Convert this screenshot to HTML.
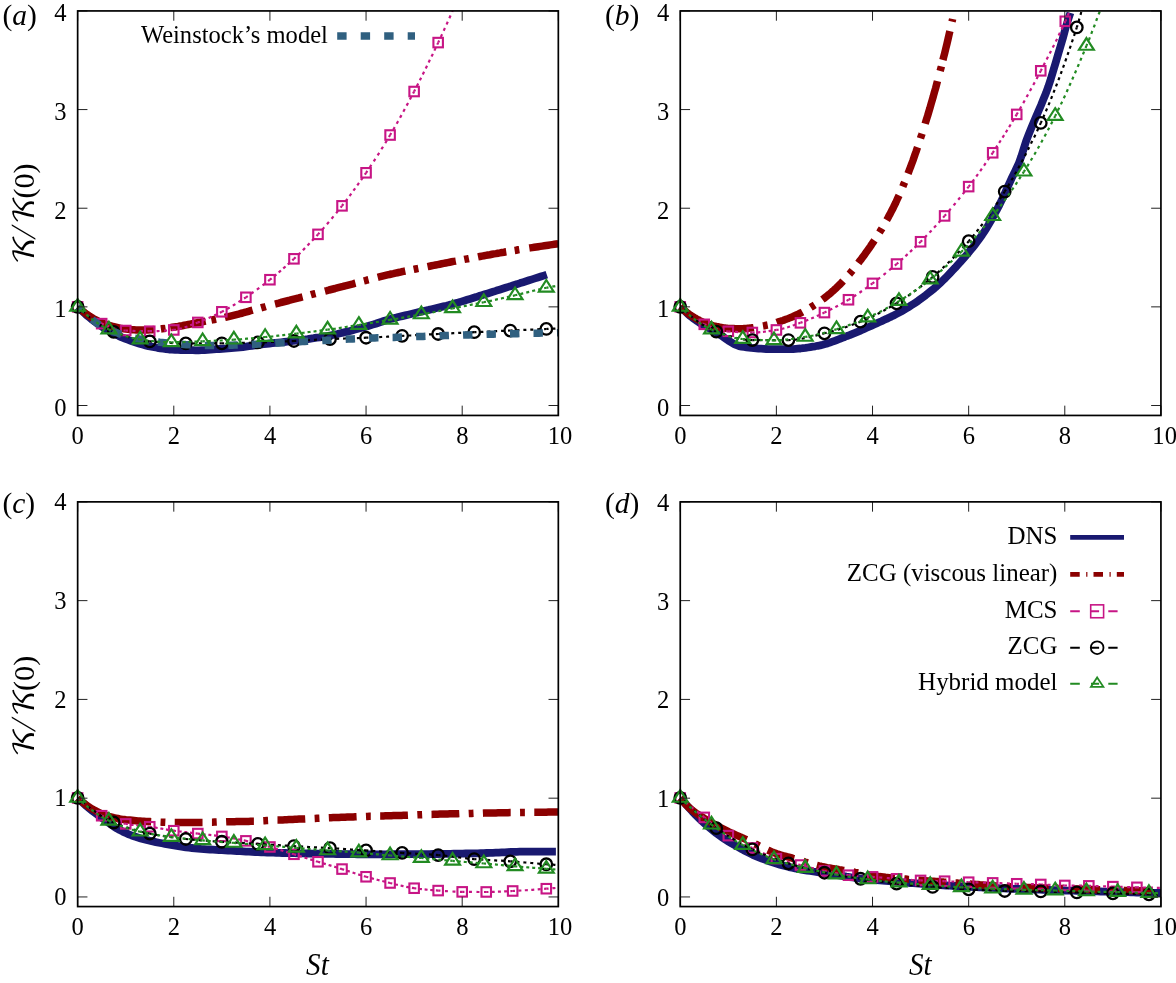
<!DOCTYPE html>
<html lang="en">
<head>
<meta charset="utf-8">
<title>K/K(0) versus St</title>
<style>
html,body{margin:0;padding:0;background:#fff;}
body{width:1176px;height:983px;overflow:hidden;}
svg{display:block;will-change:transform;}
text{font-family:"Liberation Serif","Times New Roman",Times,serif;fill:#000;}
.t{font-size:26px;}
.l{font-size:31px;}
.p{font-size:29.5px;}
.i{font-style:italic;}
.k{font-size:27px;font-family:"DejaVu Math TeX Gyre","STIX Two Math","Latin Modern Math","FreeSerif","Liberation Serif",serif;}
</style>
</head>
<body>
<svg width="1176" height="983" viewBox="0 0 1176 983">
<defs>
<clipPath id="clip_a"><rect x="65.65" y="10.93" width="493.58" height="404.52"/></clipPath>
<clipPath id="clip_b"><rect x="668.25" y="10.93" width="493.58" height="404.52"/></clipPath>
<clipPath id="clip_c"><rect x="65.65" y="502.03" width="493.58" height="404.52"/></clipPath>
<clipPath id="clip_d"><rect x="668.25" y="502.03" width="493.58" height="404.52"/></clipPath>
</defs>
<rect width="1176" height="983" fill="#fff"/>
<!-- panel a -->
<g clip-path="url(#clip_a)">
<path d="M77.7 306.9L80.6 309.7L83.6 312.4L86.5 315.1L89.5 317.5L92.4 319.9L95.4 322.2L98.3 324.3L101.3 326.3L104.2 328.2L107.2 329.9L110.1 331.6L113.1 333.2L116 334.6L119 336.1L121.9 337.4L124.9 338.6L127.8 339.7L130.8 340.8L133.7 341.8L136.7 342.8L139.6 343.7L142.6 344.6L145.5 345.4L148.5 346.1L151.4 346.6L154.4 347.2L157.3 347.8L160.3 348.3L163.2 348.7L166.2 349.1L169.1 349.5L172.1 349.7L175 349.8L178 349.9L180.9 350L183.9 350.1L186.8 350.1L189.8 350.2L192.7 350.2L195.7 350.3L198.6 350.3L201.6 350.2L204.5 350.1L207.5 349.9L210.4 349.7L213.4 349.4L216.3 349.2L219.3 349L222.2 348.8L225.2 348.6L228.1 348.4L231.1 348.1L234 347.9L237 347.7L239.9 347.4L242.9 347.1L245.8 346.7L248.8 346.2L251.7 345.8L254.7 345.3L257.6 344.9L260.6 344.5L263.5 344.2L266.5 343.8L269.4 343.5L272.4 343.2L275.3 342.9L278.3 342.6L281.2 342.3L284.2 342L287.1 341.7L290.1 341.4L293 341L296 340.6L298.9 340.2L301.9 339.9L304.8 339.5L307.8 339.1L310.7 338.6L313.7 338.2L316.6 337.7L319.6 337.3L322.5 336.8L325.5 336.3L328.5 335.8L331.4 335.2L334.4 334.6L337.3 334L340.3 333.3L343.2 332.6L346.2 331.9L349.1 331.2L352.1 330.4L355 329.6L358 328.8L360.9 328L363.9 327.2L366.8 326.4L369.8 325.5L372.7 324.6L375.7 323.7L378.6 322.7L381.6 321.8L384.5 320.8L387.5 319.9L390.4 319.1L393.4 318.3L396.3 317.6L399.3 316.8L402.2 316.1L405.2 315.4L408.1 314.7L411.1 314L414 313.3L417 312.6L419.9 311.9L422.9 311.2L425.8 310.5L428.8 309.9L431.7 309.2L434.7 308.5L437.6 307.8L440.6 307.1L443.5 306.4L446.5 305.7L449.4 304.9L452.4 304.2L455.3 303.3L458.3 302.5L461.2 301.6L464.2 300.7L467.1 299.8L470.1 298.9L473 298L476 297.1L478.9 296.1L481.9 295.2L484.8 294.3L487.8 293.4L490.7 292.5L493.7 291.6L496.6 290.6L499.6 289.7L502.5 288.8L505.5 287.8L508.4 286.9L511.4 286L514.3 285L517.3 284.1L520.2 283.1L523.2 282.2L526.1 281.3L529.1 280.3L532 279.4L535 278.4L537.9 277.5L540.9 276.5L543.8 275.6L546.8 274.6" fill="none" stroke="#191970" stroke-width="7.8" stroke-linejoin="round"/>
<path d="M77.7 306.9L79.7 308.6L81.7 310.3L83.7 312L85.7 313.5L87.7 314.9L89.7 316.3L91.7 317.5L93.7 318.7L95.8 319.8L97.8 320.9L99.8 321.8L101.8 322.7L103.8 323.5L105.8 324.2L107.8 324.9L109.8 325.5L111.8 326.1L113.9 326.6L115.9 327.1L117.9 327.6L119.9 328.1L121.9 328.5L123.9 328.8L125.9 329.1L127.9 329.3L129.9 329.5L132 329.7L134 329.8L136 329.9L138 330L140 330L142 330L144 330L146 329.9L148 329.9L150.1 329.8L152.1 329.7L154.1 329.6L156.1 329.4L158.1 329.3L160.1 329.1L162.1 328.8L164.1 328.6L166.1 328.3L168.2 328L170.2 327.6L172.2 327.3L174.2 327L176.2 326.7L178.2 326.4L180.2 326L182.2 325.7L184.2 325.3L186.3 324.9L188.3 324.5L190.3 324.1L192.3 323.7L194.3 323.3L196.3 322.9L198.3 322.5L200.3 322.2L202.3 321.8L204.4 321.4L206.4 321L208.4 320.7L210.4 320.3L212.4 319.9L214.4 319.5L216.4 319.1L218.4 318.7L220.4 318.3L222.5 317.9L224.5 317.5L226.5 317L228.5 316.6L230.5 316.1L232.5 315.6L234.5 315.1L236.5 314.6L238.5 314.1L240.6 313.5L242.6 313L244.6 312.4L246.6 311.9L248.6 311.3L250.6 310.7L252.6 310.2L254.6 309.6L256.6 309L258.7 308.5L260.7 307.9L262.7 307.3L264.7 306.8L266.7 306.2L268.7 305.7L270.7 305.2L272.7 304.6L274.7 304.1L276.8 303.6L278.8 303.1L280.8 302.5L282.8 302L284.8 301.5L286.8 301L288.8 300.5L290.8 299.9L292.8 299.4L294.9 298.9L296.9 298.4L298.9 297.9L300.9 297.3L302.9 296.8L304.9 296.3L306.9 295.8L308.9 295.3L311 294.7L313 294.2L315 293.7L317 293.2L319 292.6L321 292.1L323 291.6L325 291.1L327 290.6L329.1 290L331.1 289.5L333.1 289L335.1 288.5L337.1 287.9L339.1 287.4L341.1 286.9L343.1 286.4L345.1 285.8L347.2 285.3L349.2 284.8L351.2 284.3L353.2 283.8L355.2 283.2L357.2 282.7L359.2 282.2L361.2 281.6L363.2 281.1L365.3 280.6L367.3 280L369.3 279.5L371.3 279L373.3 278.5L375.3 277.9L377.3 277.4L379.3 276.9L381.3 276.4L383.4 275.9L385.4 275.4L387.4 274.9L389.4 274.5L391.4 274L393.4 273.6L395.4 273.1L397.4 272.7L399.4 272.3L401.5 271.8L403.5 271.4L405.5 271L407.5 270.6L409.5 270.2L411.5 269.8L413.5 269.4L415.5 269L417.5 268.6L419.6 268.2L421.6 267.8L423.6 267.4L425.6 267L427.6 266.6L429.6 266.2L431.6 265.8L433.6 265.4L435.6 265L437.7 264.6L439.7 264.2L441.7 263.8L443.7 263.4L445.7 263L447.7 262.6L449.7 262.2L451.7 261.8L453.7 261.4L455.8 261.1L457.8 260.7L459.8 260.3L461.8 259.9L463.8 259.5L465.8 259.1L467.8 258.8L469.8 258.4L471.8 258L473.9 257.6L475.9 257.3L477.9 256.9L479.9 256.5L481.9 256.1L483.9 255.8L485.9 255.4L487.9 255L489.9 254.7L492 254.3L494 253.9L496 253.6L498 253.2L500 252.9L502 252.5L504 252.2L506 251.8L508 251.5L510.1 251.2L512.1 250.8L514.1 250.5L516.1 250.2L518.1 249.8L520.1 249.5L522.1 249.2L524.1 248.9L526.2 248.5L528.2 248.2L530.2 247.9L532.2 247.6L534.2 247.3L536.2 247L538.2 246.7L540.2 246.4L542.2 246.1L544.3 245.8L546.3 245.5L548.3 245.2L550.3 244.9L552.3 244.6L554.3 244.3L556.3 244L558.3 243.7" fill="none" stroke="#8b0000" stroke-width="7.5" stroke-dasharray="82.06 6.98 4.74 4.7 35.98 5.85 4.79 8.93 28.73 8.78 4.88 9.57 28.51 8.52 4.86 9.66 31.61 8.64 4.86 9.46 28.31 8.52 4.79 9.33 28.84 8.6 4.78 9.21 28.75 8.47 4.76 10.08 29.35 999" stroke-linejoin="round"/>
<path d="M77.7 306.9L79.7 308.6L81.7 310.4L83.7 312.1L85.7 313.7L87.7 315.3L89.7 316.7L91.7 318.1L93.7 319.4L95.7 320.6L97.7 321.8L99.7 322.7L101.7 323.6" fill="none" stroke="#c71585" stroke-width="2.2" stroke-dasharray="3 3.99" stroke-dashoffset="0.75"/>
<path d="M101.7 323.6L103.7 324.4L105.7 325.2L107.7 326L109.7 326.8L111.7 327.5L113.7 328.1L115.7 328.7L117.7 329.3L119.7 329.7L121.7 330.1L123.7 330.4L125.7 330.5" fill="none" stroke="#c71585" stroke-width="2.2" stroke-dasharray="3 2.91" stroke-dashoffset="0.75"/>
<path d="M125.7 330.5L127.7 330.6L129.7 330.7L131.7 330.8L133.7 330.9L135.7 331L137.7 331L139.7 331.1L141.7 331.1L143.7 331.2L145.7 331.2L147.7 331.2L149.8 331.2" fill="none" stroke="#c71585" stroke-width="2.2" stroke-dasharray="3 4.52" stroke-dashoffset="0.75"/>
<path d="M149.8 331.2L151.8 331.2L153.8 331.2L155.8 331.1L157.8 331.1L159.8 331L161.8 330.9L163.8 330.7L165.8 330.6L167.8 330.4L169.8 330.3L171.8 330.1L173.8 329.9" fill="none" stroke="#c71585" stroke-width="2.2" stroke-dasharray="3 4.53" stroke-dashoffset="0.75"/>
<path d="M173.8 329.9L175.8 329.7L177.8 329.3L179.8 328.9L181.8 328.3L183.8 327.7L185.8 327L187.8 326.3L189.8 325.5L191.8 324.7L193.8 324L195.8 323.2L197.8 322.4" fill="none" stroke="#c71585" stroke-width="2.2" stroke-dasharray="3 2.94" stroke-dashoffset="0.75"/>
<path d="M197.8 322.4L199.8 321.7L201.8 320.9L203.8 320.1L205.8 319.3L207.8 318.4L209.8 317.6L211.8 316.6L213.8 315.7L215.8 314.8L217.8 313.8L219.9 312.8L221.9 311.8" fill="none" stroke="#c71585" stroke-width="2.2" stroke-dasharray="3 3.2" stroke-dashoffset="0.75"/>
<path d="M221.9 311.8L223.9 310.7L225.9 309.7L227.9 308.5L229.9 307.4L231.9 306.2L233.9 305L235.9 303.8L237.9 302.5L239.9 301.2L241.9 299.9L243.9 298.6L245.9 297.3" fill="none" stroke="#c71585" stroke-width="2.2" stroke-dasharray="3 3.65" stroke-dashoffset="0.75"/>
<path d="M245.9 297.3L247.9 296L249.9 294.6L251.9 293.2L253.9 291.8L255.9 290.4L257.9 288.9L259.9 287.4L261.9 285.9L263.9 284.4L265.9 282.9L267.9 281.3L269.9 279.7" fill="none" stroke="#c71585" stroke-width="2.2" stroke-dasharray="3 4.07" stroke-dashoffset="0.75"/>
<path d="M269.9 279.7L271.9 278.1L273.9 276.5L275.9 274.8L277.9 273.2L279.9 271.4L281.9 269.7L283.9 267.9L285.9 266.2L287.9 264.4L290 262.5L292 260.7L294 258.8" fill="none" stroke="#c71585" stroke-width="2.2" stroke-dasharray="3 3.07" stroke-dashoffset="0.75"/>
<path d="M294 258.8L296 256.9L298 255L300 253.1L302 251.1L304 249.1L306 247.1L308 245L310 242.9L312 240.8L314 238.7L316 236.5L318 234.4" fill="none" stroke="#c71585" stroke-width="2.2" stroke-dasharray="3 3.56" stroke-dashoffset="0.75"/>
<path d="M318 234.4L320 232.1L322 229.9L324 227.6L326 225.3L328 223L330 220.6L332 218.2L334 215.8L336 213.4L338 210.9L340 208.4L342 205.8" fill="none" stroke="#c71585" stroke-width="2.2" stroke-dasharray="3 4.16" stroke-dashoffset="0.75"/>
<path d="M342 205.8L344 203.3L346 200.7L348 198L350 195.4L352 192.6L354 189.9L356 187.1L358 184.3L360 181.5L362.1 178.6L364.1 175.7L366.1 172.8" fill="none" stroke="#c71585" stroke-width="2.2" stroke-dasharray="3 3.56" stroke-dashoffset="0.75"/>
<path d="M366.1 172.8L368.1 169.8L370.1 166.9L372.1 163.8L374.1 160.8L376.1 157.7L378.1 154.6L380.1 151.4L382.1 148.2L384.1 145L386.1 141.7L388.1 138.4L390.1 135" fill="none" stroke="#c71585" stroke-width="2.2" stroke-dasharray="3 4.21" stroke-dashoffset="0.75"/>
<path d="M390.1 135L392.1 131.6L394.1 128.2L396.1 124.7L398.1 121.2L400.1 117.6L402.1 114L404.1 110.3L406.1 106.6L408.1 102.9L410.1 99.1L412.1 95.3L414.1 91.5" fill="none" stroke="#c71585" stroke-width="2.2" stroke-dasharray="3 3.89" stroke-dashoffset="0.75"/>
<path d="M414.1 91.5L416.1 87.7L418.1 83.7L420.1 79.8L422.1 75.8L424.1 71.7L426.1 67.7L428.1 63.6L430.1 59.4L432.2 55.2L434.2 51L436.2 46.8L438.2 42.6" fill="none" stroke="#c71585" stroke-width="2.2" stroke-dasharray="3 3.63" stroke-dashoffset="0.75"/>
<path d="M438.2 42.6L439.4 40L440.6 37.5L441.8 34.9L443 32.3L444.2 29.6L445.4 27L446.6 24.4L447.8 21.7L449 19L450.2 16.3L451.4 13.6L452.6 10.9" fill="none" stroke="#c71585" stroke-width="2.2" stroke-dasharray="3 3.9" stroke-dashoffset="0.75"/>
<g stroke="#c71585" stroke-width="2.1" fill="none"><rect x="72.9" y="302.11" width="9.5" height="9.5"/></g>
<g stroke="#c71585" stroke-width="2.1" fill="none"><rect x="96.93" y="318.88" width="9.5" height="9.5"/></g>
<g stroke="#c71585" stroke-width="2.1" fill="none"><rect x="120.97" y="325.78" width="9.5" height="9.5"/></g>
<g stroke="#c71585" stroke-width="2.1" fill="none"><rect x="145" y="326.47" width="9.5" height="9.5"/></g>
<g stroke="#c71585" stroke-width="2.1" fill="none"><rect x="169.04" y="325.19" width="9.5" height="9.5"/></g>
<g stroke="#c71585" stroke-width="2.1" fill="none"><rect x="193.07" y="317.69" width="9.5" height="9.5"/></g>
<g stroke="#c71585" stroke-width="2.1" fill="none"><rect x="217.1" y="307.04" width="9.5" height="9.5"/></g>
<g stroke="#c71585" stroke-width="2.1" fill="none"><rect x="241.14" y="292.54" width="9.5" height="9.5"/></g>
<g stroke="#c71585" stroke-width="2.1" fill="none"><rect x="265.17" y="274.98" width="9.5" height="9.5"/></g>
<g stroke="#c71585" stroke-width="2.1" fill="none"><rect x="289.21" y="254.07" width="9.5" height="9.5"/></g>
<g stroke="#c71585" stroke-width="2.1" fill="none"><rect x="313.24" y="229.61" width="9.5" height="9.5"/></g>
<g stroke="#c71585" stroke-width="2.1" fill="none"><rect x="337.27" y="201.1" width="9.5" height="9.5"/></g>
<g stroke="#c71585" stroke-width="2.1" fill="none"><rect x="361.31" y="168.05" width="9.5" height="9.5"/></g>
<g stroke="#c71585" stroke-width="2.1" fill="none"><rect x="385.34" y="130.27" width="9.5" height="9.5"/></g>
<g stroke="#c71585" stroke-width="2.1" fill="none"><rect x="409.38" y="86.77" width="9.5" height="9.5"/></g>
<g stroke="#c71585" stroke-width="2.1" fill="none"><rect x="433.41" y="37.84" width="9.5" height="9.5"/></g>
<path d="M77.7 306.9L80.7 309.6L83.7 312.2L86.7 314.7L89.7 317.2L92.7 319.5L95.7 321.8L98.7 323.9L101.7 325.8L104.7 327.6L107.7 329.2L110.7 330.7L113.7 331.9" fill="none" stroke="#000000" stroke-width="2.2" stroke-dasharray="3 4.11" stroke-dashoffset="0.75"/>
<path d="M113.7 331.9L116.7 333L119.7 334.1L122.7 335.2L125.7 336.2L128.7 337.1L131.7 337.9L134.7 338.7L137.7 339.4L140.7 340.1L143.7 340.6L146.7 341L149.8 341.4" fill="none" stroke="#000000" stroke-width="2.2" stroke-dasharray="3 4.18" stroke-dashoffset="0.75"/>
<path d="M149.8 341.4L152.8 341.7L155.8 341.9L158.8 342.2L161.8 342.4L164.8 342.6L167.8 342.8L170.8 343L173.8 343.2L176.8 343.3L179.8 343.4L182.8 343.4L185.8 343.5" fill="none" stroke="#000000" stroke-width="2.2" stroke-dasharray="3 3.92" stroke-dashoffset="0.75"/>
<path d="M185.8 343.5L188.8 343.5L191.8 343.5L194.8 343.4L197.8 343.4L200.8 343.4L203.8 343.4L206.8 343.4L209.8 343.4L212.8 343.4L215.8 343.4L218.8 343.4L221.9 343.4" fill="none" stroke="#000000" stroke-width="2.2" stroke-dasharray="3 3.91" stroke-dashoffset="0.75"/>
<path d="M221.9 343.4L224.9 343.3L227.9 343.3L230.9 343.2L233.9 343.2L236.9 343.1L239.9 343L242.9 342.9L245.9 342.8L248.9 342.8L251.9 342.7L254.9 342.6L257.9 342.5" fill="none" stroke="#000000" stroke-width="2.2" stroke-dasharray="3 3.91" stroke-dashoffset="0.75"/>
<path d="M257.9 342.5L260.9 342.4L263.9 342.3L266.9 342.2L269.9 342L272.9 341.9L275.9 341.8L278.9 341.7L281.9 341.5L284.9 341.4L287.9 341.3L291 341.1L294 341" fill="none" stroke="#000000" stroke-width="2.2" stroke-dasharray="3 3.92" stroke-dashoffset="0.75"/>
<path d="M294 341L297 340.8L300 340.7L303 340.5L306 340.3L309 340.2L312 340L315 339.8L318 339.6L321 339.5L324 339.3L327 339.2L330 339" fill="none" stroke="#000000" stroke-width="2.2" stroke-dasharray="3 3.92" stroke-dashoffset="0.75"/>
<path d="M330 339L333 338.9L336 338.8L339 338.7L342 338.6L345 338.5L348 338.4L351 338.3L354 338.2L357 338.1L360 338L363.1 337.9L366.1 337.7" fill="none" stroke="#000000" stroke-width="2.2" stroke-dasharray="3 3.91" stroke-dashoffset="0.75"/>
<path d="M366.1 337.7L369.1 337.6L372.1 337.5L375.1 337.3L378.1 337.2L381.1 337L384.1 336.8L387.1 336.7L390.1 336.5L393.1 336.3L396.1 336.2L399.1 336L402.1 335.9" fill="none" stroke="#000000" stroke-width="2.2" stroke-dasharray="3 3.92" stroke-dashoffset="0.75"/>
<path d="M402.1 335.9L405.1 335.7L408.1 335.5L411.1 335.4L414.1 335.2L417.1 335.1L420.1 334.9L423.1 334.8L426.1 334.6L429.1 334.4L432.2 334.3L435.2 334.1L438.2 334" fill="none" stroke="#000000" stroke-width="2.2" stroke-dasharray="3 3.92" stroke-dashoffset="0.75"/>
<path d="M438.2 334L441.2 333.8L444.2 333.7L447.2 333.5L450.2 333.4L453.2 333.2L456.2 333.1L459.2 332.9L462.2 332.8L465.2 332.6L468.2 332.5L471.2 332.4L474.2 332.2" fill="none" stroke="#000000" stroke-width="2.2" stroke-dasharray="3 3.92" stroke-dashoffset="0.75"/>
<path d="M474.2 332.2L477.2 332.1L480.2 331.9L483.2 331.8L486.2 331.6L489.2 331.5L492.2 331.4L495.2 331.2L498.2 331.1L501.2 330.9L504.3 330.8L507.3 330.7L510.3 330.5" fill="none" stroke="#000000" stroke-width="2.2" stroke-dasharray="3 3.92" stroke-dashoffset="0.75"/>
<path d="M510.3 330.5L513.3 330.4L516.3 330.3L519.3 330.1L522.3 330L525.3 329.9L528.3 329.7L531.3 329.6L534.3 329.5L537.3 329.3L540.3 329.2L543.3 329.1L546.3 329" fill="none" stroke="#000000" stroke-width="2.2" stroke-dasharray="3 3.92" stroke-dashoffset="0.75"/>
<path d="M546.3 329L547.3 328.9L548.3 328.9L549.3 328.8L550.3 328.8L551.3 328.7L552.3 328.7L553.3 328.7L554.3 328.6L555.3 328.6L556.3 328.5L557.3 328.5L558.3 328.5" fill="none" stroke="#000000" stroke-width="2.2" stroke-dasharray="3 3.9" stroke-dashoffset="0.75"/>
<circle cx="77.65" cy="306.86" r="5.75" stroke="#000000" stroke-width="2.3" fill="none"/>
<circle cx="113.7" cy="331.91" r="5.75" stroke="#000000" stroke-width="2.3" fill="none"/>
<circle cx="149.75" cy="341.38" r="5.75" stroke="#000000" stroke-width="2.3" fill="none"/>
<circle cx="185.8" cy="343.45" r="5.75" stroke="#000000" stroke-width="2.3" fill="none"/>
<circle cx="221.85" cy="343.36" r="5.75" stroke="#000000" stroke-width="2.3" fill="none"/>
<circle cx="257.91" cy="342.47" r="5.75" stroke="#000000" stroke-width="2.3" fill="none"/>
<circle cx="293.96" cy="340.99" r="5.75" stroke="#000000" stroke-width="2.3" fill="none"/>
<circle cx="330.01" cy="339.01" r="5.75" stroke="#000000" stroke-width="2.3" fill="none"/>
<circle cx="366.06" cy="337.73" r="5.75" stroke="#000000" stroke-width="2.3" fill="none"/>
<circle cx="402.11" cy="335.86" r="5.75" stroke="#000000" stroke-width="2.3" fill="none"/>
<circle cx="438.16" cy="333.98" r="5.75" stroke="#000000" stroke-width="2.3" fill="none"/>
<circle cx="474.21" cy="332.21" r="5.75" stroke="#000000" stroke-width="2.3" fill="none"/>
<circle cx="510.26" cy="330.53" r="5.75" stroke="#000000" stroke-width="2.3" fill="none"/>
<circle cx="546.31" cy="328.95" r="5.75" stroke="#000000" stroke-width="2.3" fill="none"/>
<path d="M77.7 306.9L80.1 309L82.5 311.2L84.9 313.2L87.3 315.3L89.7 317.3L92.1 319.4L94.6 321.4L97 323.2L99.4 324.8L101.8 326.1L104.2 327.4L106.6 328.6L109.1 329.7L111.5 330.7L113.9 331.7L116.3 332.6L118.7 333.5L121.1 334.3L123.5 335L126 335.7L128.4 336.4L130.8 337L133.2 337.6L135.6 338.2L138 338.7L140.5 339.2L142.9 339.6L145.3 340.1L147.7 340.5L150.1 340.8L152.5 341.2L154.9 341.5L157.4 341.9L159.8 342.2L162.2 342.4L164.6 342.7L167 343L169.4 343.2L171.9 343.5L174.3 343.7L176.7 343.9L179.1 344.1L181.5 344.3L183.9 344.5L186.3 344.7L188.8 344.8L191.2 344.9L193.6 345L196 345.1L198.4 345.2L200.8 345.3L203.3 345.4L205.7 345.4L208.1 345.5L210.5 345.5L212.9 345.5L215.3 345.5L217.7 345.5L220.2 345.5L222.6 345.4L225 345.4L227.4 345.3L229.8 345.2L232.2 345.2L234.7 345.1L237.1 345L239.5 344.9L241.9 344.9L244.3 344.8L246.7 344.7L249.1 344.6L251.6 344.5L254 344.3L256.4 344.2L258.8 344.1L261.2 344L263.6 343.8L266.1 343.7L268.5 343.6L270.9 343.4L273.3 343.3L275.7 343.1L278.1 343L280.6 342.8L283 342.7L285.4 342.6L287.8 342.4L290.2 342.3L292.6 342.1L295 342L297.5 341.9L299.9 341.7L302.3 341.6L304.7 341.5L307.1 341.3L309.5 341.2L312 341.1L314.4 341L316.8 340.8L319.2 340.7L321.6 340.6L324 340.4L326.4 340.3L328.9 340.2L331.3 340.1L333.7 339.9L336.1 339.8L338.5 339.7L340.9 339.5L343.4 339.4L345.8 339.3L348.2 339.1L350.6 339L353 338.9L355.4 338.8L357.8 338.7L360.3 338.5L362.7 338.4L365.1 338.3L367.5 338.2L369.9 338.1L372.3 338L374.8 337.9L377.2 337.8L379.6 337.8L382 337.7L384.4 337.6L386.8 337.6L389.2 337.5L391.7 337.4L394.1 337.4L396.5 337.3L398.9 337.2L401.3 337.1L403.7 337L406.2 337L408.6 336.9L411 336.8L413.4 336.7L415.8 336.6L418.2 336.5L420.6 336.5L423.1 336.4L425.5 336.3L427.9 336.2L430.3 336.1L432.7 336L435.1 336L437.6 335.9L440 335.8L442.4 335.7L444.8 335.6L447.2 335.6L449.6 335.5L452 335.4L454.5 335.3L456.9 335.3L459.3 335.2L461.7 335.1L464.1 335L466.5 334.9L469 334.9L471.4 334.8L473.8 334.7L476.2 334.7L478.6 334.6L481 334.5L483.5 334.5L485.9 334.4L488.3 334.3L490.7 334.3L493.1 334.2L495.5 334.1L497.9 334.1L500.4 334L502.8 334L505.2 333.9L507.6 333.9L510 333.8L512.4 333.8L514.9 333.7L517.3 333.7L519.7 333.6L522.1 333.6L524.5 333.5L526.9 333.5L529.3 333.4L531.8 333.3L534.2 333.3L536.6 333.2L539 333.2L541.4 333.1L543.8 333.1L546.3 333L548.7 332.9L551.1 332.9L553.5 332.8L555.9 332.8L558.3 332.7" fill="none" stroke="#306080" stroke-width="7.5" stroke-dasharray="9.4 14.1" stroke-dashoffset="4.4"/>
<path d="M77.7 306.9L80.3 309.2L82.9 311.6L85.5 313.8L88.1 316L90.7 318.1L93.3 320.1L95.9 322L98.5 323.8L101.1 325.4L103.7 326.9L106.3 328.3L108.9 329.5" fill="none" stroke="#228b22" stroke-width="2.2" stroke-dasharray="3 3.21" stroke-dashoffset="0.75"/>
<path d="M108.9 329.5L111.5 330.7L114.1 331.8L116.7 332.8L119.3 333.9L121.9 334.8L124.5 335.7L127.1 336.5L129.7 337.3L132.3 338L134.9 338.6L137.5 339.1L140.1 339.5" fill="none" stroke="#228b22" stroke-width="2.2" stroke-dasharray="3 3.28" stroke-dashoffset="0.75"/>
<path d="M140.1 339.5L142.7 339.9L145.3 340.2L147.9 340.5L150.6 340.9L153.2 341.2L155.8 341.4L158.4 341.7L161 341.9L163.6 342L166.2 342.2L168.8 342.2L171.4 342.3" fill="none" stroke="#228b22" stroke-width="2.2" stroke-dasharray="3 2.98" stroke-dashoffset="0.75"/>
<path d="M171.4 342.3L174 342.3L176.6 342.2L179.2 342.2L181.8 342.1L184.4 342L187 341.9L189.6 341.8L192.2 341.7L194.8 341.6L197.4 341.5L200 341.4L202.6 341.3" fill="none" stroke="#228b22" stroke-width="2.2" stroke-dasharray="3 2.95" stroke-dashoffset="0.75"/>
<path d="M202.6 341.3L205.2 341.2L207.8 341.1L210.4 341L213 340.8L215.6 340.7L218.2 340.6L220.9 340.5L223.5 340.3L226.1 340.2L228.7 340L231.3 339.9L233.9 339.7" fill="none" stroke="#228b22" stroke-width="2.2" stroke-dasharray="3 2.96" stroke-dashoffset="0.75"/>
<path d="M233.9 339.7L236.5 339.5L239.1 339.3L241.7 339.2L244.3 338.9L246.9 338.7L249.5 338.5L252.1 338.3L254.7 338L257.3 337.8L259.9 337.5L262.5 337.3L265.1 337" fill="none" stroke="#228b22" stroke-width="2.2" stroke-dasharray="3 2.97" stroke-dashoffset="0.75"/>
<path d="M265.1 337L267.7 336.8L270.3 336.5L272.9 336.3L275.5 336L278.1 335.7L280.7 335.4L283.3 335.1L285.9 334.8L288.5 334.5L291.2 334.2L293.8 333.9L296.4 333.6" fill="none" stroke="#228b22" stroke-width="2.2" stroke-dasharray="3 2.99" stroke-dashoffset="0.75"/>
<path d="M296.4 333.6L299 333.3L301.6 333L304.2 332.7L306.8 332.3L309.4 332L312 331.7L314.6 331.4L317.2 331L319.8 330.7L322.4 330.3L325 330L327.6 329.6" fill="none" stroke="#228b22" stroke-width="2.2" stroke-dasharray="3 3" stroke-dashoffset="0.75"/>
<path d="M327.6 329.6L330.2 329.3L332.8 328.9L335.4 328.6L338 328.2L340.6 327.8L343.2 327.4L345.8 327L348.4 326.6L351 326.2L353.6 325.8L356.2 325.4L358.8 325" fill="none" stroke="#228b22" stroke-width="2.2" stroke-dasharray="3 3.02" stroke-dashoffset="0.75"/>
<path d="M358.8 325L361.5 324.6L364.1 324.2L366.7 323.7L369.3 323.3L371.9 322.9L374.5 322.4L377.1 322L379.7 321.6L382.3 321.1L384.9 320.7L387.5 320.2L390.1 319.8" fill="none" stroke="#228b22" stroke-width="2.2" stroke-dasharray="3 3.04" stroke-dashoffset="0.75"/>
<path d="M390.1 319.8L392.7 319.3L395.3 318.9L397.9 318.5L400.5 318L403.1 317.6L405.7 317.2L408.3 316.7L410.9 316.3L413.5 315.8L416.1 315.4L418.7 314.9L421.3 314.5" fill="none" stroke="#228b22" stroke-width="2.2" stroke-dasharray="3 3.04" stroke-dashoffset="0.75"/>
<path d="M421.3 314.5L423.9 314L426.5 313.5L429.1 313L431.8 312.5L434.4 312L437 311.4L439.6 310.9L442.2 310.4L444.8 309.9L447.4 309.4L450 308.8L452.6 308.3" fill="none" stroke="#228b22" stroke-width="2.2" stroke-dasharray="3 3.07" stroke-dashoffset="0.75"/>
<path d="M452.6 308.3L455.2 307.8L457.8 307.3L460.4 306.8L463 306.3L465.6 305.8L468.2 305.3L470.8 304.8L473.4 304.3L476 303.8L478.6 303.3L481.2 302.8L483.8 302.2" fill="none" stroke="#228b22" stroke-width="2.2" stroke-dasharray="3 3.07" stroke-dashoffset="0.75"/>
<path d="M483.8 302.2L486.4 301.7L489 301.1L491.6 300.6L494.2 300L496.8 299.4L499.4 298.9L502.1 298.3L504.7 297.7L507.3 297.1L509.9 296.5L512.5 295.9L515.1 295.3" fill="none" stroke="#228b22" stroke-width="2.2" stroke-dasharray="3 3.1" stroke-dashoffset="0.75"/>
<path d="M515.1 295.3L517.7 294.7L520.3 294.1L522.9 293.4L525.5 292.8L528.1 292.1L530.7 291.5L533.3 290.8L535.9 290.2L538.5 289.6L541.1 289L543.7 288.4L546.3 287.8" fill="none" stroke="#228b22" stroke-width="2.2" stroke-dasharray="3 3.13" stroke-dashoffset="0.75"/>
<path d="M546.3 287.8L547.3 287.6L548.3 287.4L549.3 287.2L550.3 287L551.3 286.8L552.3 286.6L553.3 286.4L554.3 286.3L555.3 286.1L556.3 285.9L557.3 285.7L558.3 285.6" fill="none" stroke="#228b22" stroke-width="2.2" stroke-dasharray="3 3.9" stroke-dashoffset="0.75"/>
<path d="M77.65 299.06L85.05 310.66L70.25 310.66Z" stroke="#228b22" stroke-width="2.2" fill="none" stroke-miterlimit="10"/>
<path d="M108.89 321.75L116.29 333.35L101.49 333.35Z" stroke="#228b22" stroke-width="2.2" fill="none" stroke-miterlimit="10"/>
<path d="M140.14 331.71L147.54 343.31L132.74 343.31Z" stroke="#228b22" stroke-width="2.2" fill="none" stroke-miterlimit="10"/>
<path d="M171.38 334.47L178.78 346.07L163.98 346.07Z" stroke="#228b22" stroke-width="2.2" fill="none" stroke-miterlimit="10"/>
<path d="M202.63 333.48L210.03 345.08L195.23 345.08Z" stroke="#228b22" stroke-width="2.2" fill="none" stroke-miterlimit="10"/>
<path d="M233.87 331.91L241.27 343.51L226.47 343.51Z" stroke="#228b22" stroke-width="2.2" fill="none" stroke-miterlimit="10"/>
<path d="M265.12 329.24L272.52 340.84L257.72 340.84Z" stroke="#228b22" stroke-width="2.2" fill="none" stroke-miterlimit="10"/>
<path d="M296.36 325.79L303.76 337.39L288.96 337.39Z" stroke="#228b22" stroke-width="2.2" fill="none" stroke-miterlimit="10"/>
<path d="M327.6 321.84L335 333.44L320.2 333.44Z" stroke="#228b22" stroke-width="2.2" fill="none" stroke-miterlimit="10"/>
<path d="M358.85 317.21L366.25 328.81L351.45 328.81Z" stroke="#228b22" stroke-width="2.2" fill="none" stroke-miterlimit="10"/>
<path d="M390.09 311.98L397.49 323.58L382.69 323.58Z" stroke="#228b22" stroke-width="2.2" fill="none" stroke-miterlimit="10"/>
<path d="M421.34 306.65L428.74 318.25L413.94 318.25Z" stroke="#228b22" stroke-width="2.2" fill="none" stroke-miterlimit="10"/>
<path d="M452.58 300.54L459.98 312.14L445.18 312.14Z" stroke="#228b22" stroke-width="2.2" fill="none" stroke-miterlimit="10"/>
<path d="M483.82 294.42L491.22 306.02L476.42 306.02Z" stroke="#228b22" stroke-width="2.2" fill="none" stroke-miterlimit="10"/>
<path d="M515.07 287.52L522.47 299.12L507.67 299.12Z" stroke="#228b22" stroke-width="2.2" fill="none" stroke-miterlimit="10"/>
<path d="M546.31 280.02L553.71 291.62L538.91 291.62Z" stroke="#228b22" stroke-width="2.2" fill="none" stroke-miterlimit="10"/>
</g>
<path d="M77.65 415.45v-9.8M77.65 10.93v9.8M173.79 415.45v-9.8M173.79 10.93v9.8M269.92 415.45v-9.8M269.92 10.93v9.8M366.06 415.45v-9.8M366.06 10.93v9.8M462.19 415.45v-9.8M462.19 10.93v9.8M558.33 415.45v-9.8M558.33 10.93v9.8M77.65 405.5h9.8M558.33 405.5h-9.8M77.65 306.86h9.8M558.33 306.86h-9.8M77.65 208.22h9.8M558.33 208.22h-9.8M77.65 109.57h9.8M558.33 109.57h-9.8M77.65 10.93h9.8M558.33 10.93h-9.8" stroke="#222" stroke-width="1" fill="none"/>
<rect x="77.65" y="10.93" width="480.68" height="404.52" fill="none" stroke="#000" stroke-width="1.7"/>
<text class="t" transform="translate(77.75 444.2) scale(0.945 0.995)" text-anchor="middle">0</text>
<text class="t" transform="translate(173.89 444.2) scale(0.945 0.995)" text-anchor="middle">2</text>
<text class="t" transform="translate(270.02 444.2) scale(0.945 0.995)" text-anchor="middle">4</text>
<text class="t" transform="translate(366.16 444.2) scale(0.945 0.995)" text-anchor="middle">6</text>
<text class="t" transform="translate(462.29 444.2) scale(0.945 0.995)" text-anchor="middle">8</text>
<text class="t" transform="translate(560.03 444.2) scale(0.945 0.995)" text-anchor="middle">10</text>
<text class="t" transform="translate(66.65 416.05) scale(0.945 0.995)" text-anchor="end">0</text>
<text class="t" transform="translate(66.65 317.41) scale(0.945 0.995)" text-anchor="end">1</text>
<text class="t" transform="translate(66.65 218.77) scale(0.945 0.995)" text-anchor="end">2</text>
<text class="t" transform="translate(66.65 120.12) scale(0.945 0.995)" text-anchor="end">3</text>
<text class="t" transform="translate(66.65 21.48) scale(0.945 0.995)" text-anchor="end">4</text>
<text class="p" transform="translate(2.4 24.6) scale(1.0 1.0)">(<tspan class="i">a</tspan>)</text>
<!-- panel b -->
<g clip-path="url(#clip_b)">
<path d="M680.2 306.9L682.7 309.2L685.2 311.5L687.6 313.8L690.1 315.9L692.5 317.8L695 319.6L697.4 321.3L699.9 322.9L702.3 324.4L704.8 325.8L707.2 327.2L709.7 328.6L712.2 330L714.6 331.4L717.1 332.9L719.5 334.4L722 336.1L724.4 337.8L726.9 339.6L729.3 341.2L731.8 342.7L734.2 344.1L736.7 345.2L739.1 346.1L741.6 346.6L744.1 347L746.5 347.3L749 347.6L751.4 347.9L753.9 348.1L756.3 348.3L758.8 348.6L761.2 348.7L763.7 348.9L766.1 349L768.6 349.1L771 349.2L773.5 349.2L776 349.2L778.4 349.2L780.9 349.2L783.3 349.2L785.8 349.2L788.2 349.2L790.7 349.2L793.1 349.1L795.6 348.9L798 348.7L800.5 348.5L802.9 348.2L805.4 347.9L807.9 347.5L810.3 347.1L812.8 346.7L815.2 346.3L817.7 345.8L820.1 345.4L822.6 344.8L825 344.1L827.5 343.4L829.9 342.6L832.4 341.7L834.8 340.8L837.3 339.8L839.8 338.9L842.2 337.9L844.7 337L847.1 336L849.6 335.1L852 334.1L854.5 333.1L856.9 332.1L859.4 331.1L861.8 330L864.3 328.9L866.7 327.8L869.2 326.7L871.7 325.6L874.1 324.5L876.6 323.4L879 322.3L881.5 321.2L883.9 320L886.4 318.9L888.8 317.7L891.3 316.6L893.7 315.4L896.2 314.1L898.6 312.8L901.1 311.5L903.6 310.1L906 308.7L908.5 307.2L910.9 305.6L913.4 304L915.8 302.4L918.3 300.7L920.7 298.9L923.2 297.1L925.6 295.3L928.1 293.3L930.5 291.4L933 289.4L935.5 287.3L937.9 285.1L940.4 282.8L942.8 280.5L945.3 278.1L947.7 275.6L950.2 273L952.6 270.4L955.1 267.8L957.5 265.1L960 262.4L962.4 259.6L964.9 256.8L967.4 254L969.8 251.1L972.3 248.1L974.7 245L977.2 241.7L979.6 238.4L982.1 234.9L984.5 231.3L987 227.4L989.4 223.3L991.9 219L994.3 214.5L996.8 209.9L999.3 205.2L1001.7 200.1L1004.2 194.8L1006.6 189.3L1009.1 183.9L1011.5 178.6L1014 173.6L1016.4 168.5L1018.9 163L1021.3 156.4L1023.8 148.5L1026.2 140.9L1028.7 134.4L1031.2 128.3L1033.6 122.4L1036.1 116.6L1038.5 110.9L1041 105.2L1043.4 99.3L1045.9 93.3L1048.3 86.6L1050.8 79L1053.2 70.9L1055.7 62.7L1058.1 54.4L1060.6 46L1063.1 37.3L1065.5 28.2L1068 20.2L1070.4 12.9" fill="none" stroke="#191970" stroke-width="7.8" stroke-linejoin="round"/>
<path d="M680.2 306.9L681.4 307.9L682.5 308.9L683.7 309.9L684.8 310.8L685.9 311.8L687.1 312.7L688.2 313.5L689.4 314.4L690.5 315.2L691.6 315.9L692.8 316.7L693.9 317.4L695.1 318L696.2 318.7L697.3 319.3L698.5 319.9L699.6 320.5L700.8 321.1L701.9 321.6L703 322.1L704.2 322.6L705.3 323L706.5 323.5L707.6 323.9L708.7 324.3L709.9 324.7L711 325.1L712.2 325.4L713.3 325.8L714.4 326.1L715.6 326.3L716.7 326.6L717.9 326.8L719 327L720.1 327.3L721.3 327.5L722.4 327.7L723.6 327.9L724.7 328L725.8 328.2L727 328.3L728.1 328.4L729.3 328.4L730.4 328.5L731.5 328.5L732.7 328.6L733.8 328.6L735 328.7L736.1 328.7L737.2 328.7L738.4 328.7L739.5 328.8L740.7 328.8L741.8 328.7L742.9 328.7L744.1 328.6L745.2 328.5L746.4 328.4L747.5 328.3L748.6 328.2L749.8 328.1L750.9 327.9L752.1 327.8L753.2 327.7L754.3 327.5L755.5 327.4L756.6 327.2L757.8 327L758.9 326.8L760 326.6L761.2 326.3L762.3 326.1L763.5 325.9L764.6 325.7L765.7 325.4L766.9 325.1L768 324.9L769.2 324.6L770.3 324.3L771.4 324L772.6 323.7L773.7 323.3L774.8 323L776 322.7L777.1 322.3L778.3 322L779.4 321.6L780.5 321.2L781.7 320.8L782.8 320.5L784 320.1L785.1 319.6L786.2 319.2L787.4 318.8L788.5 318.4L789.7 317.9L790.8 317.4L791.9 317L793.1 316.5L794.2 316L795.4 315.5L796.5 314.9L797.6 314.4L798.8 313.9L799.9 313.3L801.1 312.8L802.2 312.2L803.3 311.6L804.5 311L805.6 310.4L806.8 309.7L807.9 309.1L809 308.4L810.2 307.7L811.3 307L812.5 306.3L813.6 305.6L814.7 304.9L815.9 304.1L817 303.4L818.2 302.6L819.3 301.8L820.4 301L821.6 300.1L822.7 299.3L823.9 298.4L825 297.6L826.1 296.7L827.3 295.8L828.4 294.8L829.6 293.9L830.7 292.9L831.8 291.9L833 290.9L834.1 289.9L835.3 288.9L836.4 287.8L837.5 286.7L838.7 285.6L839.8 284.5L841 283.3L842.1 282.1L843.2 280.9L844.4 279.7L845.5 278.4L846.7 277.2L847.8 275.9L848.9 274.6L850.1 273.3L851.2 271.9L852.4 270.5L853.5 269.1L854.6 267.7L855.8 266.3L856.9 264.8L858.1 263.3L859.2 261.8L860.3 260.3L861.5 258.8L862.6 257.3L863.8 255.7L864.9 254.2L866 252.6L867.2 251L868.3 249.4L869.4 247.8L870.6 246.1L871.7 244.4L872.9 242.7L874 241L875.1 239.3L876.3 237.5L877.4 235.7L878.6 233.9L879.7 232.1L880.8 230.3L882 228.4L883.1 226.4L884.3 224.5L885.4 222.5L886.5 220.4L887.7 218.4L888.8 216.2L890 214.1L891.1 211.9L892.2 209.7L893.4 207.4L894.5 205.1L895.7 202.7L896.8 200.3L897.9 197.8L899.1 195.3L900.2 192.7L901.4 190L902.5 187.4L903.6 184.6L904.8 181.8L905.9 179L907.1 176.1L908.2 173.2L909.3 170.2L910.5 167.2L911.6 164.1L912.8 161L913.9 157.8L915 154.5L916.2 151.2L917.3 147.9L918.5 144.5L919.6 141.1L920.7 137.6L921.9 134.1L923 130.6L924.2 127L925.3 123.3L926.4 119.6L927.6 115.9L928.7 112.1L929.9 108.2L931 104.3L932.1 100.4L933.3 96.4L934.4 92.3L935.6 88.2L936.7 84L937.8 79.8L939 75.5L940.1 71.1L941.3 66.7L942.4 62.2L943.5 57.7L944.7 53.1L945.8 48.5L947 43.7L948.1 38.9L949.2 34L950.4 29L951.5 23.9L952.7 18.8" fill="none" stroke="#8b0000" stroke-width="7.5" stroke-dasharray="79.27 9.39 4.81 9.39 27.87 9.41 4.72 9.41 27.81 9.35 4.83 9.45 27.77 9.37 4.81 9.55 27.63 9.63 4.74 9.23 28.04 9.33 4.84 10.44 44.37 10.57 4.8 6.5 29.6 9.78 2.76 999" stroke-linejoin="round"/>
<path d="M680.2 306.9L682.3 308.7L684.3 310.5L686.3 312.3L688.3 314L690.3 315.6L692.3 317.2L694.3 318.6L696.3 320L698.3 321.2L700.3 322.4L702.3 323.4L704.3 324.3" fill="none" stroke="#c71585" stroke-width="2.2" stroke-dasharray="3 4.09" stroke-dashoffset="0.75"/>
<path d="M704.3 324.3L706.3 325.1L708.3 325.9L710.3 326.7L712.3 327.5L714.3 328.2L716.3 328.8L718.3 329.4L720.3 329.9L722.3 330.4L724.3 330.8L726.3 331.1L728.3 331.3" fill="none" stroke="#c71585" stroke-width="2.2" stroke-dasharray="3 2.91" stroke-dashoffset="0.75"/>
<path d="M728.3 331.3L730.3 331.5L732.3 331.6L734.3 331.8L736.3 331.9L738.3 332.1L740.3 332.2L742.3 332.3L744.3 332.3L746.3 332.4L748.3 332.5L750.3 332.5L752.4 332.5" fill="none" stroke="#c71585" stroke-width="2.2" stroke-dasharray="3 4.52" stroke-dashoffset="0.75"/>
<path d="M752.4 332.5L754.4 332.5L756.4 332.4L758.4 332.3L760.4 332.1L762.4 331.9L764.4 331.7L766.4 331.4L768.4 331.2L770.4 330.9L772.4 330.6L774.4 330.3L776.4 329.9" fill="none" stroke="#c71585" stroke-width="2.2" stroke-dasharray="3 2.67" stroke-dashoffset="0.75"/>
<path d="M776.4 329.9L778.4 329.6L780.4 329.2L782.4 328.7L784.4 328.2L786.4 327.6L788.4 327L790.4 326.3L792.4 325.6L794.4 325L796.4 324.2L798.4 323.5L800.4 322.8" fill="none" stroke="#c71585" stroke-width="2.2" stroke-dasharray="3 2.9" stroke-dashoffset="0.75"/>
<path d="M800.4 322.8L802.4 322.1L804.4 321.4L806.4 320.6L808.4 319.8L810.4 318.9L812.4 318.1L814.4 317.2L816.4 316.3L818.4 315.4L820.4 314.5L822.5 313.5L824.5 312.6" fill="none" stroke="#c71585" stroke-width="2.2" stroke-dasharray="3 3.16" stroke-dashoffset="0.75"/>
<path d="M824.5 312.6L826.5 311.6L828.5 310.6L830.5 309.6L832.5 308.6L834.5 307.6L836.5 306.5L838.5 305.5L840.5 304.4L842.5 303.2L844.5 302.1L846.5 300.9L848.5 299.8" fill="none" stroke="#c71585" stroke-width="2.2" stroke-dasharray="3 3.44" stroke-dashoffset="0.75"/>
<path d="M848.5 299.8L850.5 298.5L852.5 297.3L854.5 296L856.5 294.7L858.5 293.4L860.5 292L862.5 290.6L864.5 289.2L866.5 287.8L868.5 286.3L870.5 284.9L872.5 283.4" fill="none" stroke="#c71585" stroke-width="2.2" stroke-dasharray="3 3.9" stroke-dashoffset="0.75"/>
<path d="M872.5 283.4L874.5 281.9L876.5 280.4L878.5 278.8L880.5 277.3L882.5 275.7L884.5 274.1L886.5 272.5L888.5 270.8L890.5 269.1L892.6 267.5L894.6 265.8L896.6 264" fill="none" stroke="#c71585" stroke-width="2.2" stroke-dasharray="3 4.34" stroke-dashoffset="0.75"/>
<path d="M896.6 264L898.6 262.3L900.6 260.6L902.6 258.8L904.6 257L906.6 255.1L908.6 253.3L910.6 251.4L912.6 249.5L914.6 247.6L916.6 245.7L918.6 243.7L920.6 241.8" fill="none" stroke="#c71585" stroke-width="2.2" stroke-dasharray="3 3.26" stroke-dashoffset="0.75"/>
<path d="M920.6 241.8L922.6 239.7L924.6 237.7L926.6 235.6L928.6 233.5L930.6 231.4L932.6 229.3L934.6 227.1L936.6 224.9L938.6 222.7L940.6 220.4L942.6 218.2L944.6 215.9" fill="none" stroke="#c71585" stroke-width="2.2" stroke-dasharray="3 3.76" stroke-dashoffset="0.75"/>
<path d="M944.6 215.9L946.6 213.6L948.6 211.3L950.6 208.9L952.6 206.6L954.6 204.2L956.6 201.8L958.6 199.3L960.6 196.8L962.6 194.3L964.7 191.8L966.7 189.2L968.7 186.6" fill="none" stroke="#c71585" stroke-width="2.2" stroke-dasharray="3 4.28" stroke-dashoffset="0.75"/>
<path d="M968.7 186.6L970.7 184L972.7 181.3L974.7 178.6L976.7 175.9L978.7 173.1L980.7 170.3L982.7 167.4L984.7 164.6L986.7 161.6L988.7 158.7L990.7 155.8L992.7 152.8" fill="none" stroke="#c71585" stroke-width="2.2" stroke-dasharray="3 3.67" stroke-dashoffset="0.75"/>
<path d="M992.7 152.8L994.7 149.8L996.7 146.7L998.7 143.6L1000.7 140.5L1002.7 137.4L1004.7 134.2L1006.7 131L1008.7 127.7L1010.7 124.5L1012.7 121.1L1014.7 117.8L1016.7 114.4" fill="none" stroke="#c71585" stroke-width="2.2" stroke-dasharray="3 3.25" stroke-dashoffset="0.75"/>
<path d="M1016.7 114.4L1018.7 111L1020.7 107.5L1022.7 104L1024.7 100.5L1026.7 96.9L1028.7 93.2L1030.7 89.6L1032.7 85.9L1034.8 82.2L1036.8 78.4L1038.8 74.6L1040.8 70.8" fill="none" stroke="#c71585" stroke-width="2.2" stroke-dasharray="3 3.9" stroke-dashoffset="0.75"/>
<path d="M1040.8 70.8L1042.8 66.9L1044.8 63L1046.9 59L1048.9 55.1L1051 51.1L1053 47L1055.1 42.9L1057.1 38.8L1059.1 34.5L1061.2 30.2L1063.2 25.8L1065.3 21.3" fill="none" stroke="#c71585" stroke-width="2.2" stroke-dasharray="3 3.72" stroke-dashoffset="0.75"/>
<path d="M1065.3 21.3L1065.6 20.5L1066 19.6L1066.4 18.8L1066.7 18L1067.1 17.1L1067.4 16.2L1067.8 15.3L1068.2 14.5L1068.5 13.6L1068.9 12.7L1069.2 11.8L1069.6 10.9" fill="none" stroke="#c71585" stroke-width="2.2" stroke-dasharray="3 3.9" stroke-dashoffset="0.75"/>
<g stroke="#c71585" stroke-width="2.1" fill="none"><rect x="675.5" y="302.11" width="9.5" height="9.5"/></g>
<g stroke="#c71585" stroke-width="2.1" fill="none"><rect x="699.53" y="319.57" width="9.5" height="9.5"/></g>
<g stroke="#c71585" stroke-width="2.1" fill="none"><rect x="723.57" y="326.57" width="9.5" height="9.5"/></g>
<g stroke="#c71585" stroke-width="2.1" fill="none"><rect x="747.6" y="327.75" width="9.5" height="9.5"/></g>
<g stroke="#c71585" stroke-width="2.1" fill="none"><rect x="771.64" y="325.19" width="9.5" height="9.5"/></g>
<g stroke="#c71585" stroke-width="2.1" fill="none"><rect x="795.67" y="318.09" width="9.5" height="9.5"/></g>
<g stroke="#c71585" stroke-width="2.1" fill="none"><rect x="819.7" y="307.83" width="9.5" height="9.5"/></g>
<g stroke="#c71585" stroke-width="2.1" fill="none"><rect x="843.74" y="295.01" width="9.5" height="9.5"/></g>
<g stroke="#c71585" stroke-width="2.1" fill="none"><rect x="867.77" y="278.63" width="9.5" height="9.5"/></g>
<g stroke="#c71585" stroke-width="2.1" fill="none"><rect x="891.81" y="259.3" width="9.5" height="9.5"/></g>
<g stroke="#c71585" stroke-width="2.1" fill="none"><rect x="915.84" y="237" width="9.5" height="9.5"/></g>
<g stroke="#c71585" stroke-width="2.1" fill="none"><rect x="939.87" y="211.16" width="9.5" height="9.5"/></g>
<g stroke="#c71585" stroke-width="2.1" fill="none"><rect x="963.91" y="181.86" width="9.5" height="9.5"/></g>
<g stroke="#c71585" stroke-width="2.1" fill="none"><rect x="987.94" y="148.03" width="9.5" height="9.5"/></g>
<g stroke="#c71585" stroke-width="2.1" fill="none"><rect x="1011.98" y="109.66" width="9.5" height="9.5"/></g>
<g stroke="#c71585" stroke-width="2.1" fill="none"><rect x="1036.01" y="66.06" width="9.5" height="9.5"/></g>
<g stroke="#c71585" stroke-width="2.1" fill="none"><rect x="1060.52" y="16.54" width="9.5" height="9.5"/></g>
<path d="M680.2 306.9L683.3 309.6L686.3 312.2L689.3 314.8L692.3 317.2L695.3 319.6L698.3 321.8L701.3 323.8L704.3 325.8L707.3 327.5L710.3 329.1L713.3 330.5L716.3 331.6" fill="none" stroke="#000000" stroke-width="2.2" stroke-dasharray="3 4.09" stroke-dashoffset="0.75"/>
<path d="M716.3 331.6L719.3 332.7L722.3 333.7L725.3 334.7L728.3 335.7L731.3 336.6L734.3 337.4L737.3 338.2L740.3 338.8L743.3 339.4L746.3 339.8L749.3 340L752.4 340.1" fill="none" stroke="#000000" stroke-width="2.2" stroke-dasharray="3 4.14" stroke-dashoffset="0.75"/>
<path d="M752.4 340.1L755.4 340.1L758.4 340.1L761.4 340.1L764.4 340.1L767.4 340.1L770.4 340.1L773.4 340.1L776.4 340.1L779.4 340.1L782.4 340.1L785.4 340.1L788.4 340.1" fill="none" stroke="#000000" stroke-width="2.2" stroke-dasharray="3 3.91" stroke-dashoffset="0.75"/>
<path d="M788.4 340.1L791.4 340L794.4 339.8L797.4 339.4L800.4 339L803.4 338.4L806.4 337.8L809.4 337.1L812.4 336.3L815.4 335.6L818.4 334.8L821.4 334L824.5 333.3" fill="none" stroke="#000000" stroke-width="2.2" stroke-dasharray="3 4.06" stroke-dashoffset="0.75"/>
<path d="M824.5 333.3L827.5 332.6L830.5 331.8L833.5 330.9L836.5 330.1L839.5 329.1L842.5 328.2L845.5 327.2L848.5 326.1L851.5 325.1L854.5 324L857.5 322.8L860.5 321.7" fill="none" stroke="#000000" stroke-width="2.2" stroke-dasharray="3 4.28" stroke-dashoffset="0.75"/>
<path d="M860.5 321.7L863.5 320.4L866.5 319.1L869.5 317.8L872.5 316.4L875.5 314.9L878.5 313.4L881.5 311.8L884.5 310.2L887.5 308.5L890.5 306.8L893.6 305.1L896.6 303.3" fill="none" stroke="#000000" stroke-width="2.2" stroke-dasharray="3 3.5" stroke-dashoffset="0.75"/>
<path d="M896.6 303.3L899.6 301.5L902.6 299.6L905.6 297.6L908.6 295.5L911.6 293.4L914.6 291.2L917.6 289L920.6 286.7L923.6 284.3L926.6 281.9L929.6 279.5L932.6 277" fill="none" stroke="#000000" stroke-width="2.2" stroke-dasharray="3 4.2" stroke-dashoffset="0.75"/>
<path d="M932.6 277L935.6 274.4L938.6 271.8L941.6 269.1L944.6 266.3L947.6 263.4L950.6 260.5L953.6 257.5L956.6 254.4L959.6 251.2L962.6 247.9L965.7 244.6L968.7 241.2" fill="none" stroke="#000000" stroke-width="2.2" stroke-dasharray="3 4.05" stroke-dashoffset="0.75"/>
<path d="M968.7 241.2L971.7 237.6L974.7 234L977.7 230.3L980.7 226.4L983.7 222.4L986.7 218.4L989.7 214.2L992.7 209.9L995.7 205.4L998.7 200.9L1001.7 196.3L1004.7 191.5" fill="none" stroke="#000000" stroke-width="2.2" stroke-dasharray="3 3.65" stroke-dashoffset="0.75"/>
<path d="M1004.7 191.5L1007.7 186.7L1010.7 181.6L1013.7 176.5L1016.7 171.1L1019.7 165.6L1022.7 160L1025.7 154.2L1028.7 148.3L1031.7 142.1L1034.8 135.9L1037.8 129.5L1040.8 122.9" fill="none" stroke="#000000" stroke-width="2.2" stroke-dasharray="3 3.92" stroke-dashoffset="0.75"/>
<path d="M1040.8 122.9L1043.8 116.1L1046.8 109.1L1049.8 102L1052.8 94.5L1055.8 86.9L1058.8 79.1L1061.8 71L1064.8 62.7L1067.8 54.2L1070.8 45.5L1073.8 36.6L1076.8 27.4" fill="none" stroke="#000000" stroke-width="2.2" stroke-dasharray="3 3.71" stroke-dashoffset="0.75"/>
<path d="M1076.8 27.4L1077.2 26.1L1077.6 24.9L1078 23.5L1078.4 22.2L1078.8 20.8L1079.2 19.4L1079.6 18L1080 16.6L1080.4 15.2L1080.8 13.8L1081.2 12.3L1081.6 10.9" fill="none" stroke="#000000" stroke-width="2.2" stroke-dasharray="3 3.9" stroke-dashoffset="0.75"/>
<circle cx="680.25" cy="306.86" r="5.75" stroke="#000000" stroke-width="2.3" fill="none"/>
<circle cx="716.3" cy="331.62" r="5.75" stroke="#000000" stroke-width="2.3" fill="none"/>
<circle cx="752.35" cy="340.1" r="5.75" stroke="#000000" stroke-width="2.3" fill="none"/>
<circle cx="788.4" cy="340.1" r="5.75" stroke="#000000" stroke-width="2.3" fill="none"/>
<circle cx="824.45" cy="333.29" r="5.75" stroke="#000000" stroke-width="2.3" fill="none"/>
<circle cx="860.5" cy="321.65" r="5.75" stroke="#000000" stroke-width="2.3" fill="none"/>
<circle cx="896.56" cy="303.31" r="5.75" stroke="#000000" stroke-width="2.3" fill="none"/>
<circle cx="932.61" cy="276.97" r="5.75" stroke="#000000" stroke-width="2.3" fill="none"/>
<circle cx="968.66" cy="241.16" r="5.75" stroke="#000000" stroke-width="2.3" fill="none"/>
<circle cx="1004.71" cy="191.54" r="5.75" stroke="#000000" stroke-width="2.3" fill="none"/>
<circle cx="1040.76" cy="122.89" r="5.75" stroke="#000000" stroke-width="2.3" fill="none"/>
<circle cx="1076.81" cy="27.4" r="5.75" stroke="#000000" stroke-width="2.3" fill="none"/>
<path d="M680.2 306.9L682.9 309.3L685.5 311.7L688.1 313.9L690.7 316.2L693.3 318.3L695.9 320.3L698.5 322.2L701.1 324L703.7 325.6L706.3 327.1L708.9 328.5L711.5 329.6" fill="none" stroke="#228b22" stroke-width="2.2" stroke-dasharray="3 3.23" stroke-dashoffset="0.75"/>
<path d="M711.5 329.6L714.1 330.7L716.7 331.8L719.3 332.9L721.9 333.9L724.5 334.8L727.1 335.7L729.7 336.5L732.3 337.2L734.9 337.9L737.5 338.4L740.1 338.8L742.7 339" fill="none" stroke="#228b22" stroke-width="2.2" stroke-dasharray="3 3.25" stroke-dashoffset="0.75"/>
<path d="M742.7 339L745.3 339.2L747.9 339.4L750.5 339.5L753.2 339.7L755.8 339.8L758.4 339.9L761 340L763.6 340.1L766.2 340.2L768.8 340.3L771.4 340.3L774 340.3" fill="none" stroke="#228b22" stroke-width="2.2" stroke-dasharray="3 2.96" stroke-dashoffset="0.75"/>
<path d="M774 340.3L776.6 340.3L779.2 340.2L781.8 340L784.4 339.8L787 339.5L789.6 339.2L792.2 338.9L794.8 338.5L797.4 338.1L800 337.7L802.6 337.3L805.2 336.9" fill="none" stroke="#228b22" stroke-width="2.2" stroke-dasharray="3 2.99" stroke-dashoffset="0.75"/>
<path d="M805.2 336.9L807.8 336.5L810.4 336L813 335.5L815.6 334.9L818.2 334.3L820.8 333.7L823.5 333L826.1 332.3L828.7 331.5L831.3 330.8L833.9 330L836.5 329.2" fill="none" stroke="#228b22" stroke-width="2.2" stroke-dasharray="3 3.14" stroke-dashoffset="0.75"/>
<path d="M836.5 329.2L839.1 328.5L841.7 327.6L844.3 326.8L846.9 325.9L849.5 324.9L852.1 324L854.7 323L857.3 322L859.9 320.9L862.5 319.8L865.1 318.7L867.7 317.6" fill="none" stroke="#228b22" stroke-width="2.2" stroke-dasharray="3 3.37" stroke-dashoffset="0.75"/>
<path d="M867.7 317.6L870.3 316.4L872.9 315.2L875.5 314L878.1 312.7L880.7 311.4L883.3 310L885.9 308.6L888.5 307.2L891.1 305.7L893.8 304.2L896.4 302.7L899 301.1" fill="none" stroke="#228b22" stroke-width="2.2" stroke-dasharray="3 3.77" stroke-dashoffset="0.75"/>
<path d="M899 301.1L901.6 299.6L904.2 297.9L906.8 296.3L909.4 294.6L912 292.8L914.6 291L917.2 289.2L919.8 287.3L922.4 285.4L925 283.5L927.6 281.5L930.2 279.5" fill="none" stroke="#228b22" stroke-width="2.2" stroke-dasharray="3 3.08" stroke-dashoffset="0.75"/>
<path d="M930.2 279.5L932.8 277.5L935.4 275.4L938 273.2L940.6 271.1L943.2 268.8L945.8 266.5L948.4 264.2L951 261.8L953.6 259.4L956.2 256.9L958.8 254.4L961.4 251.8" fill="none" stroke="#228b22" stroke-width="2.2" stroke-dasharray="3 3.72" stroke-dashoffset="0.75"/>
<path d="M961.4 251.8L964.1 249.2L966.7 246.5L969.3 243.7L971.9 240.9L974.5 238L977.1 235.1L979.7 232.1L982.3 229L984.9 225.9L987.5 222.7L990.1 219.5L992.7 216.2" fill="none" stroke="#228b22" stroke-width="2.2" stroke-dasharray="3 3.56" stroke-dashoffset="0.75"/>
<path d="M992.7 216.2L995.3 212.9L997.9 209.5L1000.5 206L1003.1 202.5L1005.7 198.9L1008.3 195.2L1010.9 191.5L1013.5 187.7L1016.1 183.8L1018.7 179.8L1021.3 175.8L1023.9 171.7" fill="none" stroke="#228b22" stroke-width="2.2" stroke-dasharray="3 3.61" stroke-dashoffset="0.75"/>
<path d="M1023.9 171.7L1026.5 167.6L1029.1 163.3L1031.7 159L1034.4 154.5L1037 150L1039.6 145.4L1042.2 140.7L1044.8 136L1047.4 131.1L1050 126.2L1052.6 121.1L1055.2 116" fill="none" stroke="#228b22" stroke-width="2.2" stroke-dasharray="3 3.94" stroke-dashoffset="0.75"/>
<path d="M1055.2 116L1057.8 110.7L1060.4 105.4L1063 99.9L1065.6 94.3L1068.2 88.5L1070.8 82.7L1073.4 76.8L1076 70.8L1078.6 64.7L1081.2 58.5L1083.8 52.3L1086.4 45.9" fill="none" stroke="#228b22" stroke-width="2.2" stroke-dasharray="3 3.84" stroke-dashoffset="0.75"/>
<path d="M1086.4 45.9L1087.5 43.2L1088.7 40.4L1089.8 37.6L1090.9 34.7L1092 31.8L1093.2 28.9L1094.3 26L1095.4 23L1096.5 20L1097.6 17L1098.8 14L1099.9 10.9" fill="none" stroke="#228b22" stroke-width="2.2" stroke-dasharray="3 3.9" stroke-dashoffset="0.75"/>
<path d="M680.25 299.06L687.65 310.66L672.85 310.66Z" stroke="#228b22" stroke-width="2.2" fill="none" stroke-miterlimit="10"/>
<path d="M711.49 321.84L718.89 333.44L704.09 333.44Z" stroke="#228b22" stroke-width="2.2" fill="none" stroke-miterlimit="10"/>
<path d="M742.74 331.21L750.14 342.81L735.34 342.81Z" stroke="#228b22" stroke-width="2.2" fill="none" stroke-miterlimit="10"/>
<path d="M773.98 332.5L781.38 344.1L766.58 344.1Z" stroke="#228b22" stroke-width="2.2" fill="none" stroke-miterlimit="10"/>
<path d="M805.23 329.14L812.63 340.74L797.83 340.74Z" stroke="#228b22" stroke-width="2.2" fill="none" stroke-miterlimit="10"/>
<path d="M836.47 321.45L843.87 333.05L829.07 333.05Z" stroke="#228b22" stroke-width="2.2" fill="none" stroke-miterlimit="10"/>
<path d="M867.72 309.81L875.12 321.41L860.32 321.41Z" stroke="#228b22" stroke-width="2.2" fill="none" stroke-miterlimit="10"/>
<path d="M898.96 293.34L906.36 304.94L891.56 304.94Z" stroke="#228b22" stroke-width="2.2" fill="none" stroke-miterlimit="10"/>
<path d="M930.2 271.73L937.6 283.33L922.8 283.33Z" stroke="#228b22" stroke-width="2.2" fill="none" stroke-miterlimit="10"/>
<path d="M961.45 244.01L968.85 255.61L954.05 255.61Z" stroke="#228b22" stroke-width="2.2" fill="none" stroke-miterlimit="10"/>
<path d="M992.69 208.41L1000.09 220.01L985.29 220.01Z" stroke="#228b22" stroke-width="2.2" fill="none" stroke-miterlimit="10"/>
<path d="M1023.94 163.92L1031.34 175.52L1016.54 175.52Z" stroke="#228b22" stroke-width="2.2" fill="none" stroke-miterlimit="10"/>
<path d="M1055.18 108.18L1062.58 119.78L1047.78 119.78Z" stroke="#228b22" stroke-width="2.2" fill="none" stroke-miterlimit="10"/>
<path d="M1086.42 38.15L1093.82 49.75L1079.02 49.75Z" stroke="#228b22" stroke-width="2.2" fill="none" stroke-miterlimit="10"/>
</g>
<path d="M680.25 415.45v-9.8M680.25 10.93v9.8M776.39 415.45v-9.8M776.39 10.93v9.8M872.52 415.45v-9.8M872.52 10.93v9.8M968.66 415.45v-9.8M968.66 10.93v9.8M1064.79 415.45v-9.8M1064.79 10.93v9.8M1160.93 415.45v-9.8M1160.93 10.93v9.8M680.25 405.5h9.8M1160.93 405.5h-9.8M680.25 306.86h9.8M1160.93 306.86h-9.8M680.25 208.22h9.8M1160.93 208.22h-9.8M680.25 109.57h9.8M1160.93 109.57h-9.8M680.25 10.93h9.8M1160.93 10.93h-9.8" stroke="#222" stroke-width="1" fill="none"/>
<rect x="680.25" y="10.93" width="480.68" height="404.52" fill="none" stroke="#000" stroke-width="1.7"/>
<text class="t" transform="translate(680.35 444.2) scale(0.945 0.995)" text-anchor="middle">0</text>
<text class="t" transform="translate(776.49 444.2) scale(0.945 0.995)" text-anchor="middle">2</text>
<text class="t" transform="translate(872.62 444.2) scale(0.945 0.995)" text-anchor="middle">4</text>
<text class="t" transform="translate(968.76 444.2) scale(0.945 0.995)" text-anchor="middle">6</text>
<text class="t" transform="translate(1064.89 444.2) scale(0.945 0.995)" text-anchor="middle">8</text>
<text class="t" transform="translate(1164.63 444.2) scale(0.945 0.995)" text-anchor="middle">10</text>
<text class="t" transform="translate(669.25 416.05) scale(0.945 0.995)" text-anchor="end">0</text>
<text class="t" transform="translate(669.25 317.41) scale(0.945 0.995)" text-anchor="end">1</text>
<text class="t" transform="translate(669.25 218.77) scale(0.945 0.995)" text-anchor="end">2</text>
<text class="t" transform="translate(669.25 120.12) scale(0.945 0.995)" text-anchor="end">3</text>
<text class="t" transform="translate(669.25 21.48) scale(0.945 0.995)" text-anchor="end">4</text>
<text class="p" transform="translate(605 24.6) scale(1.0 1.0)">(<tspan class="i">b</tspan>)</text>
<!-- panel c -->
<g clip-path="url(#clip_c)">
<path d="M77.7 798L80.7 800.9L83.7 803.6L86.7 806.3L89.7 808.8L92.7 811.2L95.7 813.4L98.7 815.6L101.7 817.7L104.7 819.9L107.7 822.1L110.7 824.3L113.7 826.4L116.8 828.4L119.8 830.1L122.8 831.6L125.8 833L128.8 834.3L131.8 835.5L134.8 836.6L137.8 837.5L140.8 838.4L143.8 839.2L146.8 840L149.8 840.7L152.9 841.4L155.9 842.1L158.9 842.7L161.9 843.3L164.9 843.9L167.9 844.4L170.9 844.9L173.9 845.4L176.9 845.9L179.9 846.4L182.9 846.8L185.9 847.3L188.9 847.7L192 848L195 848.3L198 848.6L201 848.9L204 849.1L207 849.3L210 849.5L213 849.7L216 849.9L219 850L222 850.2L225 850.4L228.1 850.5L231.1 850.7L234.1 850.9L237.1 851.1L240.1 851.2L243.1 851.4L246.1 851.6L249.1 851.7L252.1 851.9L255.1 852L258.1 852.2L261.1 852.3L264.1 852.4L267.2 852.5L270.2 852.6L273.2 852.7L276.2 852.8L279.2 852.9L282.2 853L285.2 853L288.2 853.1L291.2 853.2L294.2 853.2L297.2 853.3L300.2 853.4L303.3 853.4L306.3 853.5L309.3 853.5L312.3 853.6L315.3 853.6L318.3 853.7L321.3 853.7L324.3 853.8L327.3 853.8L330.3 853.9L333.3 853.9L336.3 854L339.3 854L342.4 854.1L345.4 854.1L348.4 854.2L351.4 854.2L354.4 854.2L357.4 854.3L360.4 854.3L363.4 854.3L366.4 854.3L369.4 854.3L372.4 854.3L375.4 854.3L378.5 854.3L381.5 854.3L384.5 854.3L387.5 854.3L390.5 854.3L393.5 854.2L396.5 854.2L399.5 854.2L402.5 854.2L405.5 854.2L408.5 854.2L411.5 854.2L414.5 854.2L417.6 854.2L420.6 854.2L423.6 854.1L426.6 854.1L429.6 854.1L432.6 854L435.6 854L438.6 854L441.6 853.9L444.6 853.9L447.6 853.8L450.6 853.8L453.7 853.7L456.7 853.7L459.7 853.6L462.7 853.6L465.7 853.5L468.7 853.5L471.7 853.4L474.7 853.3L477.7 853.3L480.7 853.2L483.7 853.1L486.7 853L489.7 852.9L492.8 852.8L495.8 852.7L498.8 852.6L501.8 852.4L504.8 852.3L507.8 852.1L510.8 852L513.8 851.9L516.8 851.8L519.8 851.7L522.8 851.7L525.8 851.7L528.9 851.7L531.9 851.7L534.9 851.7L537.9 851.7L540.9 851.7L543.9 851.7L546.9 851.7L549.9 851.7L552.9 851.7L555.9 851.7" fill="none" stroke="#191970" stroke-width="7.8" stroke-linejoin="round"/>
<path d="M77.7 798L79.7 799.7L81.7 801.4L83.7 803.1L85.7 804.6L87.7 806L89.7 807.4L91.7 808.6L93.7 809.8L95.8 810.9L97.8 812L99.8 812.9L101.8 813.8L103.8 814.6L105.8 815.3L107.8 816L109.8 816.7L111.8 817.2L113.9 817.7L115.9 818.1L117.9 818.5L119.9 818.9L121.9 819.2L123.9 819.4L125.9 819.7L127.9 819.9L129.9 820.1L132 820.3L134 820.5L136 820.7L138 820.9L140 821L142 821.2L144 821.3L146 821.4L148 821.5L150.1 821.6L152.1 821.7L154.1 821.8L156.1 821.9L158.1 822L160.1 822.1L162.1 822.2L164.1 822.2L166.1 822.3L168.2 822.4L170.2 822.4L172.2 822.4L174.2 822.4L176.2 822.4L178.2 822.4L180.2 822.4L182.2 822.4L184.2 822.4L186.3 822.4L188.3 822.4L190.3 822.4L192.3 822.4L194.3 822.4L196.3 822.4L198.3 822.4L200.3 822.4L202.3 822.4L204.4 822.4L206.4 822.3L208.4 822.3L210.4 822.2L212.4 822.2L214.4 822.1L216.4 822.1L218.4 822L220.4 822L222.5 821.9L224.5 821.9L226.5 821.8L228.5 821.8L230.5 821.8L232.5 821.7L234.5 821.7L236.5 821.6L238.5 821.6L240.6 821.6L242.6 821.5L244.6 821.5L246.6 821.4L248.6 821.4L250.6 821.3L252.6 821.2L254.6 821.2L256.6 821.1L258.7 821L260.7 820.9L262.7 820.8L264.7 820.7L266.7 820.6L268.7 820.5L270.7 820.4L272.7 820.3L274.7 820.2L276.8 820.1L278.8 820.1L280.8 820L282.8 819.9L284.8 819.8L286.8 819.7L288.8 819.6L290.8 819.5L292.8 819.4L294.9 819.3L296.9 819.2L298.9 819.1L300.9 819L302.9 819L304.9 818.9L306.9 818.8L308.9 818.7L311 818.6L313 818.5L315 818.4L317 818.3L319 818.2L321 818.1L323 818.1L325 818L327 817.9L329.1 817.8L331.1 817.7L333.1 817.6L335.1 817.6L337.1 817.5L339.1 817.4L341.1 817.3L343.1 817.2L345.1 817.2L347.2 817.1L349.2 817L351.2 816.9L353.2 816.9L355.2 816.8L357.2 816.7L359.2 816.7L361.2 816.6L363.2 816.5L365.3 816.5L367.3 816.4L369.3 816.3L371.3 816.3L373.3 816.2L375.3 816.1L377.3 816.1L379.3 816L381.3 816L383.4 815.9L385.4 815.8L387.4 815.8L389.4 815.7L391.4 815.7L393.4 815.6L395.4 815.5L397.4 815.5L399.4 815.4L401.5 815.4L403.5 815.3L405.5 815.2L407.5 815.2L409.5 815.1L411.5 815L413.5 815L415.5 814.9L417.5 814.8L419.6 814.8L421.6 814.7L423.6 814.6L425.6 814.6L427.6 814.5L429.6 814.4L431.6 814.4L433.6 814.3L435.6 814.2L437.7 814.2L439.7 814.1L441.7 814.1L443.7 814L445.7 813.9L447.7 813.9L449.7 813.8L451.7 813.8L453.7 813.8L455.8 813.7L457.8 813.7L459.8 813.6L461.8 813.6L463.8 813.5L465.8 813.5L467.8 813.5L469.8 813.4L471.8 813.4L473.9 813.3L475.9 813.3L477.9 813.2L479.9 813.2L481.9 813.2L483.9 813.1L485.9 813.1L487.9 813L489.9 813L492 813L494 812.9L496 812.9L498 812.8L500 812.8L502 812.8L504 812.7L506 812.7L508 812.7L510.1 812.6L512.1 812.6L514.1 812.6L516.1 812.5L518.1 812.5L520.1 812.5L522.1 812.4L524.1 812.4L526.2 812.4L528.2 812.4L530.2 812.3L532.2 812.3L534.2 812.3L536.2 812.3L538.2 812.2L540.2 812.2L542.2 812.2L544.3 812.2L546.3 812.2L548.3 812.1L550.3 812.1L552.3 812.1L554.3 812.1L556.3 812.1L558.3 812.1" fill="none" stroke="#8b0000" stroke-width="7.5" stroke-dasharray="79.2 9.4 4.8 9.4 27.8 9.4 4.8 9.4 27.8 9.4 4.8 9.4 27.8 9.4 4.8 9.4 27.8 9.4 4.8 9.4 27.8 9.4 4.8 9.4 27.8 9.4 4.8 9.4 27.8 9.4 4.8 9.4 27.8 9.4 4.8 9.4 27.8 9.4 4.8 9.4 27.8 9.4 4.8 9.4 27.8 9.4 4.8 9.4 27.8 9.4 4.8 9.4" stroke-linejoin="round"/>
<path d="M77.7 798L79.7 799.8L81.7 801.6L83.7 803.4L85.7 805.1L87.7 806.7L89.7 808.3L91.7 809.7L93.7 811.1L95.7 812.4L97.7 813.6L99.7 814.7L101.7 815.7" fill="none" stroke="#c71585" stroke-width="2.2" stroke-dasharray="3 4.13" stroke-dashoffset="0.75"/>
<path d="M101.7 815.7L103.7 816.6L105.7 817.5L107.7 818.4L109.7 819.2L111.7 820L113.7 820.7L115.7 821.4L117.7 822L119.7 822.6L121.7 823.1L123.7 823.5L125.7 823.9" fill="none" stroke="#c71585" stroke-width="2.2" stroke-dasharray="3 2.99" stroke-dashoffset="0.75"/>
<path d="M125.7 823.9L127.7 824.2L129.7 824.5L131.7 824.8L133.7 825L135.7 825.2L137.7 825.4L139.7 825.6L141.7 825.8L143.7 826L145.7 826.3L147.7 826.5L149.8 826.8" fill="none" stroke="#c71585" stroke-width="2.2" stroke-dasharray="3 2.68" stroke-dashoffset="0.75"/>
<path d="M149.8 826.8L151.8 827L153.8 827.4L155.8 827.7L157.8 828L159.8 828.4L161.8 828.7L163.8 829.1L165.8 829.4L167.8 829.8L169.8 830.1L171.8 830.4L173.8 830.7" fill="none" stroke="#c71585" stroke-width="2.2" stroke-dasharray="3 2.71" stroke-dashoffset="0.75"/>
<path d="M173.8 830.7L175.8 831L177.8 831.2L179.8 831.5L181.8 831.7L183.8 832L185.8 832.2L187.8 832.4L189.8 832.6L191.8 832.9L193.8 833.1L195.8 833.3L197.8 833.6" fill="none" stroke="#c71585" stroke-width="2.2" stroke-dasharray="3 2.68" stroke-dashoffset="0.75"/>
<path d="M197.8 833.6L199.8 833.8L201.8 834L203.8 834.3L205.8 834.5L207.8 834.7L209.8 834.9L211.8 835.1L213.8 835.4L215.8 835.6L217.8 835.9L219.9 836.1L221.9 836.4" fill="none" stroke="#c71585" stroke-width="2.2" stroke-dasharray="3 2.68" stroke-dashoffset="0.75"/>
<path d="M221.9 836.4L223.9 836.7L225.9 837L227.9 837.4L229.9 837.7L231.9 838.1L233.9 838.4L235.9 838.8L237.9 839.2L239.9 839.6L241.9 840L243.9 840.4L245.9 840.9" fill="none" stroke="#c71585" stroke-width="2.2" stroke-dasharray="3 2.74" stroke-dashoffset="0.75"/>
<path d="M245.9 840.9L247.9 841.3L249.9 841.8L251.9 842.2L253.9 842.7L255.9 843.2L257.9 843.7L259.9 844.3L261.9 844.8L263.9 845.3L265.9 845.9L267.9 846.4L269.9 847" fill="none" stroke="#c71585" stroke-width="2.2" stroke-dasharray="3 2.83" stroke-dashoffset="0.75"/>
<path d="M269.9 847L271.9 847.5L273.9 848.1L275.9 848.7L277.9 849.3L279.9 849.9L281.9 850.5L283.9 851.2L285.9 851.8L287.9 852.4L290 853L292 853.7L294 854.3" fill="none" stroke="#c71585" stroke-width="2.2" stroke-dasharray="3 2.9" stroke-dashoffset="0.75"/>
<path d="M294 854.3L296 854.9L298 855.5L300 856.1L302 856.8L304 857.4L306 858L308 858.7L310 859.3L312 859.9L314 860.5L316 861.2L318 861.8" fill="none" stroke="#c71585" stroke-width="2.2" stroke-dasharray="3 2.92" stroke-dashoffset="0.75"/>
<path d="M318 861.8L320 862.4L322 863L324 863.6L326 864.2L328 864.8L330 865.4L332 866L334 866.6L336 867.2L338 867.8L340 868.5L342 869.1" fill="none" stroke="#c71585" stroke-width="2.2" stroke-dasharray="3 2.9" stroke-dashoffset="0.75"/>
<path d="M342 869.1L344 869.7L346 870.4L348 871L350 871.7L352 872.3L354 873L356 873.7L358 874.3L360 875L362.1 875.6L364.1 876.2L366.1 876.8" fill="none" stroke="#c71585" stroke-width="2.2" stroke-dasharray="3 2.93" stroke-dashoffset="0.75"/>
<path d="M366.1 876.8L368.1 877.3L370.1 877.9L372.1 878.4L374.1 879L376.1 879.5L378.1 880L380.1 880.5L382.1 881L384.1 881.5L386.1 882L388.1 882.5L390.1 883" fill="none" stroke="#c71585" stroke-width="2.2" stroke-dasharray="3 2.83" stroke-dashoffset="0.75"/>
<path d="M390.1 883L392.1 883.5L394.1 884L396.1 884.5L398.1 884.9L400.1 885.4L402.1 885.9L404.1 886.4L406.1 886.8L408.1 887.2L410.1 887.6L412.1 887.9L414.1 888.2" fill="none" stroke="#c71585" stroke-width="2.2" stroke-dasharray="3 2.78" stroke-dashoffset="0.75"/>
<path d="M414.1 888.2L416.1 888.5L418.1 888.7L420.1 889L422.1 889.2L424.1 889.4L426.1 889.6L428.1 889.8L430.1 890L432.2 890.1L434.2 890.3L436.2 890.4L438.2 890.6" fill="none" stroke="#c71585" stroke-width="2.2" stroke-dasharray="3 2.66" stroke-dashoffset="0.75"/>
<path d="M438.2 890.6L440.2 890.7L442.2 890.9L444.2 891L446.2 891.1L448.2 891.3L450.2 891.4L452.2 891.5L454.2 891.6L456.2 891.7L458.2 891.8L460.2 891.8L462.2 891.9" fill="none" stroke="#c71585" stroke-width="2.2" stroke-dasharray="3 4.52" stroke-dashoffset="0.75"/>
<path d="M462.2 891.9L464.2 891.9L466.2 891.9L468.2 891.9L470.2 891.9L472.2 891.9L474.2 891.9L476.2 891.9L478.2 892L480.2 892L482.2 892L484.2 892L486.2 892" fill="none" stroke="#c71585" stroke-width="2.2" stroke-dasharray="3 4.51" stroke-dashoffset="0.75"/>
<path d="M486.2 892L488.4 892L490.6 891.9L492.8 891.9L495 891.8L497.2 891.7L499.4 891.6L501.6 891.5L503.9 891.4L506.1 891.3L508.3 891.2L510.5 891.1L512.7 891" fill="none" stroke="#c71585" stroke-width="2.2" stroke-dasharray="3 3.24" stroke-dashoffset="0.75"/>
<path d="M512.7 891L515.5 890.8L518.3 890.7L521.1 890.5L523.9 890.3L526.7 890.2L529.5 890L532.3 889.8L535.1 889.6L537.9 889.3L540.7 889.1L543.5 888.9L546.3 888.7" fill="none" stroke="#c71585" stroke-width="2.2" stroke-dasharray="3 3.45" stroke-dashoffset="0.75"/>
<path d="M546.3 888.7L547.3 888.6L548.3 888.6L549.3 888.5L550.3 888.4L551.3 888.3L552.3 888.2L553.3 888.1L554.3 888.1L555.3 888L556.3 887.9L557.3 887.8L558.3 887.7" fill="none" stroke="#c71585" stroke-width="2.2" stroke-dasharray="3 3.9" stroke-dashoffset="0.75"/>
<g stroke="#c71585" stroke-width="2.1" fill="none"><rect x="72.9" y="793.21" width="9.5" height="9.5"/></g>
<g stroke="#c71585" stroke-width="2.1" fill="none"><rect x="96.93" y="810.96" width="9.5" height="9.5"/></g>
<g stroke="#c71585" stroke-width="2.1" fill="none"><rect x="120.97" y="819.15" width="9.5" height="9.5"/></g>
<g stroke="#c71585" stroke-width="2.1" fill="none"><rect x="145" y="822.01" width="9.5" height="9.5"/></g>
<g stroke="#c71585" stroke-width="2.1" fill="none"><rect x="169.04" y="825.96" width="9.5" height="9.5"/></g>
<g stroke="#c71585" stroke-width="2.1" fill="none"><rect x="193.07" y="828.82" width="9.5" height="9.5"/></g>
<g stroke="#c71585" stroke-width="2.1" fill="none"><rect x="217.1" y="831.68" width="9.5" height="9.5"/></g>
<g stroke="#c71585" stroke-width="2.1" fill="none"><rect x="241.14" y="836.12" width="9.5" height="9.5"/></g>
<g stroke="#c71585" stroke-width="2.1" fill="none"><rect x="265.17" y="842.23" width="9.5" height="9.5"/></g>
<g stroke="#c71585" stroke-width="2.1" fill="none"><rect x="289.21" y="849.53" width="9.5" height="9.5"/></g>
<g stroke="#c71585" stroke-width="2.1" fill="none"><rect x="313.24" y="857.03" width="9.5" height="9.5"/></g>
<g stroke="#c71585" stroke-width="2.1" fill="none"><rect x="337.27" y="864.33" width="9.5" height="9.5"/></g>
<g stroke="#c71585" stroke-width="2.1" fill="none"><rect x="361.31" y="872.02" width="9.5" height="9.5"/></g>
<g stroke="#c71585" stroke-width="2.1" fill="none"><rect x="385.34" y="878.24" width="9.5" height="9.5"/></g>
<g stroke="#c71585" stroke-width="2.1" fill="none"><rect x="409.38" y="883.47" width="9.5" height="9.5"/></g>
<g stroke="#c71585" stroke-width="2.1" fill="none"><rect x="433.41" y="885.83" width="9.5" height="9.5"/></g>
<g stroke="#c71585" stroke-width="2.1" fill="none"><rect x="457.44" y="887.12" width="9.5" height="9.5"/></g>
<g stroke="#c71585" stroke-width="2.1" fill="none"><rect x="481.48" y="887.21" width="9.5" height="9.5"/></g>
<g stroke="#c71585" stroke-width="2.1" fill="none"><rect x="507.92" y="886.23" width="9.5" height="9.5"/></g>
<g stroke="#c71585" stroke-width="2.1" fill="none"><rect x="541.56" y="883.96" width="9.5" height="9.5"/></g>
<path d="M77.7 798L80.7 800.5L83.7 803L86.7 805.5L89.7 807.8L92.7 810.1L95.7 812.2L98.7 814.3L101.7 816.2L104.7 818L107.7 819.7L110.7 821.2L113.7 822.5" fill="none" stroke="#000000" stroke-width="2.2" stroke-dasharray="3 4.05" stroke-dashoffset="0.75"/>
<path d="M113.7 822.5L116.7 823.8L119.7 824.9L122.7 826L125.7 827.1L128.7 828.1L131.7 829L134.7 829.9L137.7 830.8L140.7 831.5L143.7 832.3L146.7 832.9L149.8 833.6" fill="none" stroke="#000000" stroke-width="2.2" stroke-dasharray="3 4.25" stroke-dashoffset="0.75"/>
<path d="M149.8 833.6L152.8 834.2L155.8 834.7L158.8 835.3L161.8 835.8L164.8 836.3L167.8 836.7L170.8 837.2L173.8 837.6L176.8 838L179.8 838.3L182.8 838.7L185.8 839" fill="none" stroke="#000000" stroke-width="2.2" stroke-dasharray="3 3.99" stroke-dashoffset="0.75"/>
<path d="M185.8 839L188.8 839.3L191.8 839.6L194.8 839.8L197.8 840.1L200.8 840.3L203.8 840.5L206.8 840.7L209.8 840.9L212.8 841.2L215.8 841.4L218.8 841.6L221.9 841.8" fill="none" stroke="#000000" stroke-width="2.2" stroke-dasharray="3 3.93" stroke-dashoffset="0.75"/>
<path d="M221.9 841.8L224.9 842L227.9 842.1L230.9 842.3L233.9 842.5L236.9 842.7L239.9 842.9L242.9 843L245.9 843.2L248.9 843.4L251.9 843.6L254.9 843.7L257.9 843.9" fill="none" stroke="#000000" stroke-width="2.2" stroke-dasharray="3 3.92" stroke-dashoffset="0.75"/>
<path d="M257.9 843.9L260.9 844.1L263.9 844.3L266.9 844.5L269.9 844.7L272.9 844.8L275.9 845L278.9 845.2L281.9 845.4L284.9 845.6L287.9 845.7L291 845.9L294 846.1" fill="none" stroke="#000000" stroke-width="2.2" stroke-dasharray="3 3.92" stroke-dashoffset="0.75"/>
<path d="M294 846.1L297 846.3L300 846.4L303 846.6L306 846.8L309 847L312 847.1L315 847.3L318 847.5L321 847.6L324 847.8L327 848L330 848.2" fill="none" stroke="#000000" stroke-width="2.2" stroke-dasharray="3 3.92" stroke-dashoffset="0.75"/>
<path d="M330 848.2L333 848.3L336 848.5L339 848.7L342 848.9L345 849.1L348 849.3L351 849.5L354 849.7L357 849.8L360 850L363.1 850.2L366.1 850.4" fill="none" stroke="#000000" stroke-width="2.2" stroke-dasharray="3 3.92" stroke-dashoffset="0.75"/>
<path d="M366.1 850.4L369.1 850.6L372.1 850.8L375.1 851L378.1 851.3L381.1 851.5L384.1 851.7L387.1 851.9L390.1 852.1L393.1 852.3L396.1 852.5L399.1 852.7L402.1 852.9" fill="none" stroke="#000000" stroke-width="2.2" stroke-dasharray="3 3.93" stroke-dashoffset="0.75"/>
<path d="M402.1 852.9L405.1 853.1L408.1 853.3L411.1 853.4L414.1 853.6L417.1 853.8L420.1 853.9L423.1 854.1L426.1 854.3L429.1 854.4L432.2 854.6L435.2 854.8L438.2 855.1" fill="none" stroke="#000000" stroke-width="2.2" stroke-dasharray="3 3.92" stroke-dashoffset="0.75"/>
<path d="M438.2 855.1L441.2 855.3L444.2 855.6L447.2 856L450.2 856.3L453.2 856.7L456.2 857.1L459.2 857.5L462.2 857.9L465.2 858.2L468.2 858.6L471.2 858.9L474.2 859.1" fill="none" stroke="#000000" stroke-width="2.2" stroke-dasharray="3 3.96" stroke-dashoffset="0.75"/>
<path d="M474.2 859.1L477.2 859.3L480.2 859.5L483.2 859.7L486.2 859.9L489.2 860.1L492.2 860.2L495.2 860.4L498.2 860.6L501.2 860.7L504.3 860.9L507.3 861.1L510.3 861.3" fill="none" stroke="#000000" stroke-width="2.2" stroke-dasharray="3 3.92" stroke-dashoffset="0.75"/>
<path d="M510.3 861.3L513.3 861.5L516.3 861.7L519.3 862L522.3 862.2L525.3 862.5L528.3 862.8L531.3 863L534.3 863.3L537.3 863.5L540.3 863.8L543.3 864L546.3 864.2" fill="none" stroke="#000000" stroke-width="2.2" stroke-dasharray="3 3.93" stroke-dashoffset="0.75"/>
<path d="M546.3 864.2L547.3 864.3L548.3 864.4L549.3 864.5L550.3 864.5L551.3 864.6L552.3 864.7L553.3 864.7L554.3 864.8L555.3 864.8L556.3 864.9L557.3 865L558.3 865" fill="none" stroke="#000000" stroke-width="2.2" stroke-dasharray="3 3.9" stroke-dashoffset="0.75"/>
<circle cx="77.65" cy="797.96" r="5.75" stroke="#000000" stroke-width="2.3" fill="none"/>
<circle cx="113.7" cy="822.52" r="5.75" stroke="#000000" stroke-width="2.3" fill="none"/>
<circle cx="149.75" cy="833.57" r="5.75" stroke="#000000" stroke-width="2.3" fill="none"/>
<circle cx="185.8" cy="838.99" r="5.75" stroke="#000000" stroke-width="2.3" fill="none"/>
<circle cx="221.85" cy="841.75" r="5.75" stroke="#000000" stroke-width="2.3" fill="none"/>
<circle cx="257.91" cy="843.92" r="5.75" stroke="#000000" stroke-width="2.3" fill="none"/>
<circle cx="293.96" cy="846.1" r="5.75" stroke="#000000" stroke-width="2.3" fill="none"/>
<circle cx="330.01" cy="848.17" r="5.75" stroke="#000000" stroke-width="2.3" fill="none"/>
<circle cx="366.06" cy="850.44" r="5.75" stroke="#000000" stroke-width="2.3" fill="none"/>
<circle cx="402.11" cy="852.9" r="5.75" stroke="#000000" stroke-width="2.3" fill="none"/>
<circle cx="438.16" cy="855.07" r="5.75" stroke="#000000" stroke-width="2.3" fill="none"/>
<circle cx="474.21" cy="859.12" r="5.75" stroke="#000000" stroke-width="2.3" fill="none"/>
<circle cx="510.26" cy="861.29" r="5.75" stroke="#000000" stroke-width="2.3" fill="none"/>
<circle cx="546.31" cy="864.25" r="5.75" stroke="#000000" stroke-width="2.3" fill="none"/>
<path d="M77.7 798L80.3 800.3L82.9 802.7L85.5 804.9L88.1 807.1L90.7 809.2L93.3 811.2L95.9 813.1L98.5 814.9L101.1 816.6L103.7 818.1L106.3 819.5L108.9 820.8" fill="none" stroke="#228b22" stroke-width="2.2" stroke-dasharray="3 3.23" stroke-dashoffset="0.75"/>
<path d="M108.9 820.8L111.5 822L114.1 823.2L116.7 824.3L119.3 825.3L121.9 826.3L124.5 827.2L127.1 828.1L129.7 828.9L132.3 829.7L134.9 830.4L137.5 831.1L140.1 831.7" fill="none" stroke="#228b22" stroke-width="2.2" stroke-dasharray="3 3.33" stroke-dashoffset="0.75"/>
<path d="M140.1 831.7L142.7 832.3L145.3 832.8L147.9 833.3L150.6 833.8L153.2 834.3L155.8 834.7L158.4 835.2L161 835.6L163.6 835.9L166.2 836.3L168.8 836.7L171.4 837" fill="none" stroke="#228b22" stroke-width="2.2" stroke-dasharray="3 3.04" stroke-dashoffset="0.75"/>
<path d="M171.4 837L174 837.4L176.6 837.7L179.2 838L181.8 838.3L184.4 838.6L187 838.8L189.6 839.1L192.2 839.4L194.8 839.6L197.4 839.9L200 840.1L202.6 840.4" fill="none" stroke="#228b22" stroke-width="2.2" stroke-dasharray="3 2.99" stroke-dashoffset="0.75"/>
<path d="M202.6 840.4L205.2 840.6L207.8 840.8L210.4 841.1L213 841.3L215.6 841.5L218.2 841.7L220.9 841.9L223.5 842.1L226.1 842.3L228.7 842.5L231.3 842.7L233.9 842.9" fill="none" stroke="#228b22" stroke-width="2.2" stroke-dasharray="3 2.97" stroke-dashoffset="0.75"/>
<path d="M233.9 842.9L236.5 843.1L239.1 843.4L241.7 843.6L244.3 843.8L246.9 844L249.5 844.2L252.1 844.4L254.7 844.6L257.3 844.8L259.9 845L262.5 845.2L265.1 845.4" fill="none" stroke="#228b22" stroke-width="2.2" stroke-dasharray="3 2.97" stroke-dashoffset="0.75"/>
<path d="M265.1 845.4L267.7 845.6L270.3 845.8L272.9 846L275.5 846.2L278.1 846.4L280.7 846.6L283.3 846.8L285.9 847L288.5 847.2L291.2 847.5L293.8 847.7L296.4 847.9" fill="none" stroke="#228b22" stroke-width="2.2" stroke-dasharray="3 2.97" stroke-dashoffset="0.75"/>
<path d="M296.4 847.9L299 848.1L301.6 848.3L304.2 848.5L306.8 848.7L309.4 849L312 849.2L314.6 849.4L317.2 849.6L319.8 849.8L322.4 850L325 850.2L327.6 850.4" fill="none" stroke="#228b22" stroke-width="2.2" stroke-dasharray="3 2.97" stroke-dashoffset="0.75"/>
<path d="M327.6 850.4L330.2 850.6L332.8 850.8L335.4 851L338 851.2L340.6 851.3L343.2 851.5L345.8 851.7L348.4 851.9L351 852L353.6 852.2L356.2 852.4L358.8 852.6" fill="none" stroke="#228b22" stroke-width="2.2" stroke-dasharray="3 2.96" stroke-dashoffset="0.75"/>
<path d="M358.8 852.6L361.5 852.8L364.1 853L366.7 853.3L369.3 853.5L371.9 853.8L374.5 854L377.1 854.3L379.7 854.5L382.3 854.8L384.9 855L387.5 855.2L390.1 855.5" fill="none" stroke="#228b22" stroke-width="2.2" stroke-dasharray="3 2.98" stroke-dashoffset="0.75"/>
<path d="M390.1 855.5L392.7 855.7L395.3 855.9L397.9 856.1L400.5 856.3L403.1 856.5L405.7 856.7L408.3 857L410.9 857.2L413.5 857.4L416.1 857.6L418.7 857.8L421.3 858" fill="none" stroke="#228b22" stroke-width="2.2" stroke-dasharray="3 2.97" stroke-dashoffset="0.75"/>
<path d="M421.3 858L423.9 858.3L426.5 858.5L429.1 858.7L431.8 859L434.4 859.2L437 859.5L439.6 859.7L442.2 859.9L444.8 860.2L447.4 860.4L450 860.7L452.6 860.9" fill="none" stroke="#228b22" stroke-width="2.2" stroke-dasharray="3 2.97" stroke-dashoffset="0.75"/>
<path d="M452.6 860.9L455.2 861.1L457.8 861.3L460.4 861.5L463 861.8L465.6 862L468.2 862.2L470.8 862.4L473.4 862.6L476 862.8L478.6 863L481.2 863.2L483.8 863.5" fill="none" stroke="#228b22" stroke-width="2.2" stroke-dasharray="3 2.97" stroke-dashoffset="0.75"/>
<path d="M483.8 863.5L486.4 863.7L489 863.9L491.6 864.2L494.2 864.4L496.8 864.6L499.4 864.9L502.1 865.1L504.7 865.4L507.3 865.6L509.9 865.9L512.5 866.1L515.1 866.3" fill="none" stroke="#228b22" stroke-width="2.2" stroke-dasharray="3 2.97" stroke-dashoffset="0.75"/>
<path d="M515.1 866.3L517.7 866.5L520.3 866.7L522.9 867L525.5 867.2L528.1 867.4L530.7 867.6L533.3 867.8L535.9 868L538.5 868.2L541.1 868.4L543.7 868.6L546.3 868.8" fill="none" stroke="#228b22" stroke-width="2.2" stroke-dasharray="3 2.97" stroke-dashoffset="0.75"/>
<path d="M546.3 868.8L547.3 868.9L548.3 868.9L549.3 869L550.3 869.1L551.3 869.2L552.3 869.3L553.3 869.4L554.3 869.4L555.3 869.5L556.3 869.6L557.3 869.7L558.3 869.8" fill="none" stroke="#228b22" stroke-width="2.2" stroke-dasharray="3 3.9" stroke-dashoffset="0.75"/>
<path d="M77.65 790.16L85.05 801.76L70.25 801.76Z" stroke="#228b22" stroke-width="2.2" fill="none" stroke-miterlimit="10"/>
<path d="M108.89 813.04L116.29 824.64L101.49 824.64Z" stroke="#228b22" stroke-width="2.2" fill="none" stroke-miterlimit="10"/>
<path d="M140.14 823.89L147.54 835.49L132.74 835.49Z" stroke="#228b22" stroke-width="2.2" fill="none" stroke-miterlimit="10"/>
<path d="M171.38 829.22L178.78 840.82L163.98 840.82Z" stroke="#228b22" stroke-width="2.2" fill="none" stroke-miterlimit="10"/>
<path d="M202.63 832.57L210.03 844.17L195.23 844.17Z" stroke="#228b22" stroke-width="2.2" fill="none" stroke-miterlimit="10"/>
<path d="M233.87 835.14L241.27 846.74L226.47 846.74Z" stroke="#228b22" stroke-width="2.2" fill="none" stroke-miterlimit="10"/>
<path d="M265.12 837.6L272.52 849.2L257.72 849.2Z" stroke="#228b22" stroke-width="2.2" fill="none" stroke-miterlimit="10"/>
<path d="M296.36 840.07L303.76 851.67L288.96 851.67Z" stroke="#228b22" stroke-width="2.2" fill="none" stroke-miterlimit="10"/>
<path d="M327.6 842.64L335 854.24L320.2 854.24Z" stroke="#228b22" stroke-width="2.2" fill="none" stroke-miterlimit="10"/>
<path d="M358.85 844.81L366.25 856.41L351.45 856.41Z" stroke="#228b22" stroke-width="2.2" fill="none" stroke-miterlimit="10"/>
<path d="M390.09 847.67L397.49 859.27L382.69 859.27Z" stroke="#228b22" stroke-width="2.2" fill="none" stroke-miterlimit="10"/>
<path d="M421.34 850.23L428.74 861.83L413.94 861.83Z" stroke="#228b22" stroke-width="2.2" fill="none" stroke-miterlimit="10"/>
<path d="M452.58 853.09L459.98 864.69L445.18 864.69Z" stroke="#228b22" stroke-width="2.2" fill="none" stroke-miterlimit="10"/>
<path d="M483.82 855.66L491.22 867.26L476.42 867.26Z" stroke="#228b22" stroke-width="2.2" fill="none" stroke-miterlimit="10"/>
<path d="M515.07 858.52L522.47 870.12L507.67 870.12Z" stroke="#228b22" stroke-width="2.2" fill="none" stroke-miterlimit="10"/>
<path d="M546.31 860.98L553.71 872.58L538.91 872.58Z" stroke="#228b22" stroke-width="2.2" fill="none" stroke-miterlimit="10"/>
</g>
<path d="M77.65 906.57v-9.8M77.65 501.87v9.8M173.79 906.57v-9.8M173.79 501.87v9.8M269.92 906.57v-9.8M269.92 501.87v9.8M366.06 906.57v-9.8M366.06 501.87v9.8M462.19 906.57v-9.8M462.19 501.87v9.8M558.33 906.57v-9.8M558.33 501.87v9.8M77.65 896.95h9.8M558.33 896.95h-9.8M77.65 798.18h9.8M558.33 798.18h-9.8M77.65 699.41h9.8M558.33 699.41h-9.8M77.65 600.64h9.8M558.33 600.64h-9.8M77.65 501.87h9.8M558.33 501.87h-9.8" stroke="#222" stroke-width="1" fill="none"/>
<rect x="77.65" y="501.87" width="480.68" height="404.7" fill="none" stroke="#000" stroke-width="1.7"/>
<text class="t" transform="translate(77.75 934.62) scale(0.945 0.995)" text-anchor="middle">0</text>
<text class="t" transform="translate(173.89 934.62) scale(0.945 0.995)" text-anchor="middle">2</text>
<text class="t" transform="translate(270.02 934.62) scale(0.945 0.995)" text-anchor="middle">4</text>
<text class="t" transform="translate(366.16 934.62) scale(0.945 0.995)" text-anchor="middle">6</text>
<text class="t" transform="translate(462.29 934.62) scale(0.945 0.995)" text-anchor="middle">8</text>
<text class="t" transform="translate(560.03 934.62) scale(0.945 0.995)" text-anchor="middle">10</text>
<text class="t" transform="translate(66.65 905.2) scale(0.945 0.995)" text-anchor="end">0</text>
<text class="t" transform="translate(66.65 806.43) scale(0.945 0.995)" text-anchor="end">1</text>
<text class="t" transform="translate(66.65 707.66) scale(0.945 0.995)" text-anchor="end">2</text>
<text class="t" transform="translate(66.65 608.89) scale(0.945 0.995)" text-anchor="end">3</text>
<text class="t" transform="translate(66.65 510.12) scale(0.945 0.995)" text-anchor="end">4</text>
<text class="p" transform="translate(2.4 513.3) scale(1.0 1.0)">(<tspan class="i">c</tspan>)</text>
<!-- panel d -->
<g clip-path="url(#clip_d)">
<path d="M680.2 798L683.3 801.5L686.3 804.9L689.3 808.2L692.3 811.5L695.4 814.7L698.4 817.7L701.4 820.6L704.4 823.3L707.5 826L710.5 828.5L713.5 831L716.5 833.4L719.6 835.6L722.6 837.7L725.6 839.7L728.6 841.6L731.6 843.4L734.7 845.2L737.7 846.9L740.7 848.5L743.7 850.2L746.8 851.8L749.8 853.3L752.8 854.8L755.8 856.1L758.9 857.4L761.9 858.6L764.9 859.7L767.9 860.8L770.9 861.9L774 862.9L777 863.8L780 864.7L783 865.5L786.1 866.3L789.1 867.1L792.1 867.8L795.1 868.4L798.2 869L801.2 869.6L804.2 870.1L807.2 870.6L810.2 871L813.3 871.5L816.3 871.9L819.3 872.4L822.3 872.8L825.4 873.3L828.4 873.8L831.4 874.3L834.4 874.7L837.5 875.2L840.5 875.7L843.5 876.2L846.5 876.7L849.5 877.1L852.6 877.5L855.6 877.9L858.6 878.3L861.6 878.6L864.7 879L867.7 879.3L870.7 879.6L873.7 879.8L876.8 880.1L879.8 880.4L882.8 880.6L885.8 880.9L888.8 881.1L891.9 881.4L894.9 881.7L897.9 881.9L900.9 882.2L904 882.4L907 882.7L910 883L913 883.2L916.1 883.4L919.1 883.7L922.1 883.9L925.1 884.1L928.1 884.3L931.2 884.5L934.2 884.7L937.2 884.9L940.2 885.1L943.3 885.3L946.3 885.5L949.3 885.7L952.3 885.8L955.4 886L958.4 886.2L961.4 886.3L964.4 886.5L967.4 886.7L970.5 886.8L973.5 887L976.5 887.1L979.5 887.3L982.6 887.4L985.6 887.6L988.6 887.7L991.6 887.9L994.7 888L997.7 888.1L1000.7 888.3L1003.7 888.4L1006.7 888.5L1009.8 888.6L1012.8 888.8L1015.8 888.9L1018.8 889L1021.9 889.1L1024.9 889.2L1027.9 889.3L1030.9 889.4L1034 889.5L1037 889.6L1040 889.7L1043 889.8L1046.1 889.9L1049.1 890L1052.1 890.1L1055.1 890.2L1058.1 890.3L1061.2 890.4L1064.2 890.5L1067.2 890.6L1070.2 890.6L1073.3 890.7L1076.3 890.8L1079.3 890.9L1082.3 891L1085.4 891.1L1088.4 891.2L1091.4 891.3L1094.4 891.4L1097.4 891.4L1100.5 891.5L1103.5 891.6L1106.5 891.7L1109.5 891.8L1112.6 891.9L1115.6 891.9L1118.6 892L1121.6 892.1L1124.7 892.2L1127.7 892.2L1130.7 892.3L1133.7 892.4L1136.7 892.5L1139.8 892.6L1142.8 892.6L1145.8 892.7L1148.8 892.8L1151.9 892.8L1154.9 892.9L1157.9 893L1160.9 893" fill="none" stroke="#191970" stroke-width="7.8" stroke-linejoin="round"/>
<path d="M680.2 798L682.3 800.4L684.3 802.7L686.3 804.9L688.3 806.9L690.3 808.7L692.3 810.3L694.3 811.9L696.3 813.3L698.4 814.7L700.4 816L702.4 817.2L704.4 818.5L706.4 819.7L708.4 820.9L710.4 822.1L712.4 823.3L714.4 824.4L716.5 825.5L718.5 826.6L720.5 827.7L722.5 828.7L724.5 829.7L726.5 830.7L728.5 831.7L730.5 832.6L732.5 833.5L734.6 834.4L736.6 835.3L738.6 836.2L740.6 837.1L742.6 837.9L744.6 838.8L746.6 839.7L748.6 840.7L750.6 841.6L752.7 842.6L754.7 843.6L756.7 844.6L758.7 845.7L760.7 846.7L762.7 847.7L764.7 848.6L766.7 849.6L768.7 850.5L770.8 851.4L772.8 852.3L774.8 853L776.8 853.8L778.8 854.4L780.8 855L782.8 855.6L784.8 856.1L786.8 856.7L788.9 857.2L790.9 857.7L792.9 858.3L794.9 858.8L796.9 859.4L798.9 860L800.9 860.7L802.9 861.3L804.9 862L807 862.6L809 863.2L811 863.8L813 864.4L815 864.9L817 865.4L819 865.9L821 866.3L823 866.8L825.1 867.2L827.1 867.6L829.1 867.9L831.1 868.3L833.1 868.6L835.1 869L837.1 869.3L839.1 869.7L841.1 870L843.2 870.4L845.2 870.7L847.2 871.1L849.2 871.4L851.2 871.7L853.2 872L855.2 872.4L857.2 872.7L859.2 873.1L861.3 873.5L863.3 873.9L865.3 874.3L867.3 874.7L869.3 875.2L871.3 875.5L873.3 875.8L875.3 876.1L877.3 876.3L879.4 876.6L881.4 876.8L883.4 877L885.4 877.3L887.4 877.5L889.4 877.7L891.4 877.9L893.4 878.1L895.4 878.2L897.5 878.4L899.5 878.6L901.5 878.8L903.5 878.9L905.5 879.1L907.5 879.3L909.5 879.4L911.5 879.6L913.6 879.8L915.6 879.9L917.6 880.1L919.6 880.2L921.6 880.4L923.6 880.6L925.6 880.7L927.6 880.9L929.6 881L931.7 881.2L933.7 881.3L935.7 881.5L937.7 881.6L939.7 881.8L941.7 881.9L943.7 882.1L945.7 882.2L947.7 882.4L949.8 882.5L951.8 882.6L953.8 882.8L955.8 882.9L957.8 883.1L959.8 883.2L961.8 883.4L963.8 883.5L965.8 883.7L967.9 883.8L969.9 884L971.9 884.2L973.9 884.3L975.9 884.5L977.9 884.6L979.9 884.8L981.9 884.9L983.9 885.1L986 885.2L988 885.4L990 885.5L992 885.7L994 885.8L996 885.9L998 886.1L1000 886.2L1002 886.3L1004.1 886.4L1006.1 886.5L1008.1 886.6L1010.1 886.7L1012.1 886.8L1014.1 886.9L1016.1 887L1018.1 887.1L1020.1 887.2L1022.2 887.3L1024.2 887.3L1026.2 887.4L1028.2 887.5L1030.2 887.6L1032.2 887.6L1034.2 887.7L1036.2 887.8L1038.2 887.9L1040.3 887.9L1042.3 888L1044.3 888.1L1046.3 888.1L1048.3 888.2L1050.3 888.3L1052.3 888.3L1054.3 888.4L1056.3 888.4L1058.4 888.5L1060.4 888.6L1062.4 888.6L1064.4 888.7L1066.4 888.8L1068.4 888.8L1070.4 888.9L1072.4 889L1074.4 889L1076.5 889.1L1078.5 889.1L1080.5 889.2L1082.5 889.3L1084.5 889.3L1086.5 889.4L1088.5 889.4L1090.5 889.5L1092.5 889.6L1094.6 889.6L1096.6 889.7L1098.6 889.7L1100.6 889.8L1102.6 889.8L1104.6 889.9L1106.6 889.9L1108.6 890L1110.6 890L1112.7 890.1L1114.7 890.1L1116.7 890.2L1118.7 890.2L1120.7 890.3L1122.7 890.3L1124.7 890.4L1126.7 890.4L1128.8 890.5L1130.8 890.5L1132.8 890.5L1134.8 890.6L1136.8 890.6L1138.8 890.7L1140.8 890.7L1142.8 890.7L1144.8 890.8L1146.9 890.8L1148.9 890.9L1150.9 890.9L1152.9 890.9L1154.9 891L1156.9 891L1158.9 891L1160.9 891.1" fill="none" stroke="#8b0000" stroke-width="7.5" stroke-dasharray="79.2 9.4 4.8 9.4 27.8 9.4 4.8 9.4 27.8 9.4 4.8 9.4 27.8 9.4 4.8 9.4 27.8 9.4 4.8 9.4 27.8 9.4 4.8 9.4 27.8 9.4 4.8 9.4 27.8 9.4 4.8 9.4 27.8 9.4 4.8 9.4 27.8 9.4 4.8 9.4 27.8 9.4 4.8 9.4 27.8 9.4 4.8 9.4 27.8 9.4 4.8 9.4" stroke-linejoin="round"/>
<path d="M680.2 798L682.3 799.6L684.3 801.3L686.3 802.9L688.3 804.6L690.3 806.2L692.3 807.8L694.3 809.4L696.3 811L698.3 812.6L700.3 814.2L702.3 815.8L704.3 817.4" fill="none" stroke="#c71585" stroke-width="2.2" stroke-dasharray="3 4.35" stroke-dashoffset="0.75"/>
<path d="M704.3 817.4L706.3 819L708.3 820.6L710.3 822.2L712.3 823.8L714.3 825.4L716.3 827L718.3 828.6L720.3 830.1L722.3 831.6L724.3 833L726.3 834.4L728.3 835.6" fill="none" stroke="#c71585" stroke-width="2.2" stroke-dasharray="3 4.17" stroke-dashoffset="0.75"/>
<path d="M728.3 835.6L730.3 836.8L732.3 838L734.3 839.1L736.3 840.2L738.3 841.2L740.3 842.2L742.3 843.2L744.3 844.2L746.3 845.1L748.3 846.1L750.3 847L752.4 848" fill="none" stroke="#c71585" stroke-width="2.2" stroke-dasharray="3 3.38" stroke-dashoffset="0.75"/>
<path d="M752.4 848L754.4 848.9L756.4 849.9L758.4 850.9L760.4 851.8L762.4 852.8L764.4 853.7L766.4 854.6L768.4 855.5L770.4 856.4L772.4 857.2L774.4 857.9L776.4 858.6" fill="none" stroke="#c71585" stroke-width="2.2" stroke-dasharray="3 3.2" stroke-dashoffset="0.75"/>
<path d="M776.4 858.6L778.4 859.3L780.4 859.9L782.4 860.5L784.4 861L786.4 861.5L788.4 862.1L790.4 862.6L792.4 863.1L794.4 863.5L796.4 864L798.4 864.5L800.4 865" fill="none" stroke="#c71585" stroke-width="2.2" stroke-dasharray="3 2.85" stroke-dashoffset="0.75"/>
<path d="M800.4 865L802.4 865.6L804.4 866.1L806.4 866.6L808.4 867.1L810.4 867.6L812.4 868.1L814.4 868.6L816.4 869.1L818.4 869.6L820.4 870.1L822.5 870.5L824.5 871" fill="none" stroke="#c71585" stroke-width="2.2" stroke-dasharray="3 2.81" stroke-dashoffset="0.75"/>
<path d="M824.5 871L826.5 871.4L828.5 871.8L830.5 872.2L832.5 872.6L834.5 873L836.5 873.4L838.5 873.8L840.5 874.1L842.5 874.4L844.5 874.7L846.5 875L848.5 875.2" fill="none" stroke="#c71585" stroke-width="2.2" stroke-dasharray="3 2.73" stroke-dashoffset="0.75"/>
<path d="M848.5 875.2L850.5 875.4L852.5 875.6L854.5 875.7L856.5 875.9L858.5 876L860.5 876.1L862.5 876.2L864.5 876.3L866.5 876.5L868.5 876.6L870.5 876.7L872.5 876.9" fill="none" stroke="#c71585" stroke-width="2.2" stroke-dasharray="3 4.53" stroke-dashoffset="0.75"/>
<path d="M872.5 876.9L874.5 877L876.5 877.2L878.5 877.4L880.5 877.5L882.5 877.7L884.5 877.9L886.5 878L888.5 878.2L890.5 878.4L892.6 878.5L894.6 878.7L896.6 878.8" fill="none" stroke="#c71585" stroke-width="2.2" stroke-dasharray="3 4.54" stroke-dashoffset="0.75"/>
<path d="M896.6 878.8L898.6 879L900.6 879.1L902.6 879.3L904.6 879.4L906.6 879.6L908.6 879.7L910.6 879.9L912.6 880L914.6 880.1L916.6 880.2L918.6 880.3L920.6 880.4" fill="none" stroke="#c71585" stroke-width="2.2" stroke-dasharray="3 4.53" stroke-dashoffset="0.75"/>
<path d="M920.6 880.4L922.6 880.5L924.6 880.6L926.6 880.7L928.6 880.7L930.6 880.8L932.6 880.8L934.6 880.9L936.6 881L938.6 881L940.6 881.1L942.6 881.1L944.6 881.2" fill="none" stroke="#c71585" stroke-width="2.2" stroke-dasharray="3 4.52" stroke-dashoffset="0.75"/>
<path d="M944.6 881.2L946.6 881.3L948.6 881.4L950.6 881.5L952.6 881.5L954.6 881.6L956.6 881.7L958.6 881.8L960.6 881.9L962.6 882L964.7 882.1L966.7 882.1L968.7 882.2" fill="none" stroke="#c71585" stroke-width="2.2" stroke-dasharray="3 4.52" stroke-dashoffset="0.75"/>
<path d="M968.7 882.2L970.7 882.3L972.7 882.3L974.7 882.4L976.7 882.4L978.7 882.5L980.7 882.5L982.7 882.6L984.7 882.7L986.7 882.7L988.7 882.8L990.7 882.8L992.7 882.9" fill="none" stroke="#c71585" stroke-width="2.2" stroke-dasharray="3 4.51" stroke-dashoffset="0.75"/>
<path d="M992.7 882.9L994.7 883L996.7 883L998.7 883.1L1000.7 883.2L1002.7 883.3L1004.7 883.3L1006.7 883.4L1008.7 883.5L1010.7 883.6L1012.7 883.6L1014.7 883.7L1016.7 883.8" fill="none" stroke="#c71585" stroke-width="2.2" stroke-dasharray="3 4.52" stroke-dashoffset="0.75"/>
<path d="M1016.7 883.8L1018.7 883.8L1020.7 883.9L1022.7 884L1024.7 884L1026.7 884.1L1028.7 884.1L1030.7 884.2L1032.7 884.2L1034.8 884.3L1036.8 884.3L1038.8 884.4L1040.8 884.5" fill="none" stroke="#c71585" stroke-width="2.2" stroke-dasharray="3 4.51" stroke-dashoffset="0.75"/>
<path d="M1040.8 884.5L1042.8 884.5L1044.8 884.6L1046.8 884.7L1048.8 884.8L1050.8 884.9L1052.8 885L1054.8 885.1L1056.8 885.2L1058.8 885.3L1060.8 885.3L1062.8 885.4L1064.8 885.5" fill="none" stroke="#c71585" stroke-width="2.2" stroke-dasharray="3 4.52" stroke-dashoffset="0.75"/>
<path d="M1064.8 885.5L1066.8 885.5L1068.8 885.5L1070.8 885.6L1072.8 885.6L1074.8 885.6L1076.8 885.7L1078.8 885.7L1080.8 885.7L1082.8 885.7L1084.8 885.8L1086.8 885.8L1088.8 885.8" fill="none" stroke="#c71585" stroke-width="2.2" stroke-dasharray="3 4.51" stroke-dashoffset="0.75"/>
<path d="M1088.8 885.8L1090.8 885.9L1092.8 886L1094.8 886L1096.8 886.1L1098.8 886.1L1100.8 886.2L1102.8 886.3L1104.9 886.4L1106.9 886.4L1108.9 886.5L1110.9 886.6L1112.9 886.6" fill="none" stroke="#c71585" stroke-width="2.2" stroke-dasharray="3 4.52" stroke-dashoffset="0.75"/>
<path d="M1112.9 886.6L1114.9 886.7L1116.9 886.8L1118.9 886.8L1120.9 886.9L1122.9 886.9L1124.9 887L1126.9 887.1L1128.9 887.1L1130.9 887.2L1132.9 887.2L1134.9 887.3L1136.9 887.3" fill="none" stroke="#c71585" stroke-width="2.2" stroke-dasharray="3 4.51" stroke-dashoffset="0.75"/>
<path d="M1136.9 887.3L1138.9 887.4L1140.9 887.4L1142.9 887.5L1144.9 887.5L1146.9 887.6L1148.9 887.6L1150.9 887.7L1152.9 887.7L1154.9 887.8L1156.9 887.8L1158.9 887.9L1160.9 887.9" fill="none" stroke="#c71585" stroke-width="2.2" stroke-dasharray="3 3.9" stroke-dashoffset="0.75"/>
<g stroke="#c71585" stroke-width="2.1" fill="none"><rect x="675.5" y="793.21" width="9.5" height="9.5"/></g>
<g stroke="#c71585" stroke-width="2.1" fill="none"><rect x="699.53" y="812.64" width="9.5" height="9.5"/></g>
<g stroke="#c71585" stroke-width="2.1" fill="none"><rect x="723.57" y="830.89" width="9.5" height="9.5"/></g>
<g stroke="#c71585" stroke-width="2.1" fill="none"><rect x="747.6" y="843.22" width="9.5" height="9.5"/></g>
<g stroke="#c71585" stroke-width="2.1" fill="none"><rect x="771.64" y="853.87" width="9.5" height="9.5"/></g>
<g stroke="#c71585" stroke-width="2.1" fill="none"><rect x="795.67" y="860.28" width="9.5" height="9.5"/></g>
<g stroke="#c71585" stroke-width="2.1" fill="none"><rect x="819.7" y="866.2" width="9.5" height="9.5"/></g>
<g stroke="#c71585" stroke-width="2.1" fill="none"><rect x="843.74" y="870.44" width="9.5" height="9.5"/></g>
<g stroke="#c71585" stroke-width="2.1" fill="none"><rect x="867.77" y="872.12" width="9.5" height="9.5"/></g>
<g stroke="#c71585" stroke-width="2.1" fill="none"><rect x="891.81" y="874.09" width="9.5" height="9.5"/></g>
<g stroke="#c71585" stroke-width="2.1" fill="none"><rect x="915.84" y="875.67" width="9.5" height="9.5"/></g>
<g stroke="#c71585" stroke-width="2.1" fill="none"><rect x="939.87" y="876.46" width="9.5" height="9.5"/></g>
<g stroke="#c71585" stroke-width="2.1" fill="none"><rect x="963.91" y="877.45" width="9.5" height="9.5"/></g>
<g stroke="#c71585" stroke-width="2.1" fill="none"><rect x="987.94" y="878.14" width="9.5" height="9.5"/></g>
<g stroke="#c71585" stroke-width="2.1" fill="none"><rect x="1011.98" y="879.03" width="9.5" height="9.5"/></g>
<g stroke="#c71585" stroke-width="2.1" fill="none"><rect x="1036.01" y="879.72" width="9.5" height="9.5"/></g>
<g stroke="#c71585" stroke-width="2.1" fill="none"><rect x="1060.04" y="880.7" width="9.5" height="9.5"/></g>
<g stroke="#c71585" stroke-width="2.1" fill="none"><rect x="1084.08" y="881.1" width="9.5" height="9.5"/></g>
<g stroke="#c71585" stroke-width="2.1" fill="none"><rect x="1108.11" y="881.89" width="9.5" height="9.5"/></g>
<g stroke="#c71585" stroke-width="2.1" fill="none"><rect x="1132.15" y="882.58" width="9.5" height="9.5"/></g>
<path d="M680.2 798L683.3 800.8L686.3 803.6L689.3 806.4L692.3 809.1L695.3 811.7L698.3 814.3L701.3 816.8L704.3 819.2L707.3 821.5L710.3 823.8L713.3 826L716.3 828.1" fill="none" stroke="#000000" stroke-width="2.2" stroke-dasharray="3 3.51" stroke-dashoffset="0.75"/>
<path d="M716.3 828.1L719.3 830.2L722.3 832.2L725.3 834.2L728.3 836.1L731.3 838L734.3 839.8L737.3 841.6L740.3 843.3L743.3 844.9L746.3 846.5L749.3 848L752.4 849.4" fill="none" stroke="#000000" stroke-width="2.2" stroke-dasharray="3 3.74" stroke-dashoffset="0.75"/>
<path d="M752.4 849.4L755.4 850.8L758.4 852.2L761.4 853.5L764.4 854.7L767.4 855.9L770.4 857.1L773.4 858.2L776.4 859.3L779.4 860.4L782.4 861.4L785.4 862.4L788.4 863.4" fill="none" stroke="#000000" stroke-width="2.2" stroke-dasharray="3 3.2" stroke-dashoffset="0.75"/>
<path d="M788.4 863.4L791.4 864.3L794.4 865.2L797.4 866.1L800.4 866.9L803.4 867.7L806.4 868.5L809.4 869.3L812.4 870L815.4 870.8L818.4 871.4L821.4 872.1L824.5 872.7" fill="none" stroke="#000000" stroke-width="2.2" stroke-dasharray="3 4.15" stroke-dashoffset="0.75"/>
<path d="M824.5 872.7L827.5 873.3L830.5 873.9L833.5 874.4L836.5 875L839.5 875.5L842.5 876L845.5 876.5L848.5 876.9L851.5 877.4L854.5 877.8L857.5 878.3L860.5 878.7" fill="none" stroke="#000000" stroke-width="2.2" stroke-dasharray="3 4.01" stroke-dashoffset="0.75"/>
<path d="M860.5 878.7L863.5 879.2L866.5 879.6L869.5 880.1L872.5 880.5L875.5 880.9L878.5 881.3L881.5 881.7L884.5 882.1L887.5 882.5L890.5 882.9L893.6 883.2L896.6 883.6" fill="none" stroke="#000000" stroke-width="2.2" stroke-dasharray="3 3.98" stroke-dashoffset="0.75"/>
<path d="M896.6 883.6L899.6 883.9L902.6 884.2L905.6 884.5L908.6 884.8L911.6 885.1L914.6 885.4L917.6 885.7L920.6 885.9L923.6 886.2L926.6 886.5L929.6 886.7L932.6 886.9" fill="none" stroke="#000000" stroke-width="2.2" stroke-dasharray="3 3.94" stroke-dashoffset="0.75"/>
<path d="M932.6 886.9L935.6 887.2L938.6 887.4L941.6 887.6L944.6 887.8L947.6 888L950.6 888.2L953.6 888.4L956.6 888.6L959.6 888.8L962.6 889L965.7 889.1L968.7 889.3" fill="none" stroke="#000000" stroke-width="2.2" stroke-dasharray="3 3.93" stroke-dashoffset="0.75"/>
<path d="M968.7 889.3L971.7 889.5L974.7 889.6L977.7 889.8L980.7 890L983.7 890.1L986.7 890.3L989.7 890.4L992.7 890.6L995.7 890.7L998.7 890.8L1001.7 890.9L1004.7 891" fill="none" stroke="#000000" stroke-width="2.2" stroke-dasharray="3 3.92" stroke-dashoffset="0.75"/>
<path d="M1004.7 891L1007.7 891L1010.7 891.1L1013.7 891.1L1016.7 891.2L1019.7 891.2L1022.7 891.2L1025.7 891.3L1028.7 891.3L1031.7 891.3L1034.8 891.4L1037.8 891.4L1040.8 891.5" fill="none" stroke="#000000" stroke-width="2.2" stroke-dasharray="3 3.91" stroke-dashoffset="0.75"/>
<path d="M1040.8 891.5L1043.8 891.5L1046.8 891.6L1049.8 891.7L1052.8 891.8L1055.8 891.8L1058.8 891.9L1061.8 892L1064.8 892.1L1067.8 892.2L1070.8 892.3L1073.8 892.4L1076.8 892.5" fill="none" stroke="#000000" stroke-width="2.2" stroke-dasharray="3 3.91" stroke-dashoffset="0.75"/>
<path d="M1076.8 892.5L1079.8 892.5L1082.8 892.6L1085.8 892.7L1088.8 892.8L1091.8 892.8L1094.8 892.9L1097.8 893L1100.8 893L1103.8 893.1L1106.9 893.2L1109.9 893.3L1112.9 893.3" fill="none" stroke="#000000" stroke-width="2.2" stroke-dasharray="3 3.91" stroke-dashoffset="0.75"/>
<path d="M1112.9 893.3L1115.9 893.4L1118.9 893.5L1121.9 893.6L1124.9 893.7L1127.9 893.8L1130.9 893.8L1133.9 893.9L1136.9 894L1139.9 894.1L1142.9 894.2L1145.9 894.3L1148.9 894.3" fill="none" stroke="#000000" stroke-width="2.2" stroke-dasharray="3 3.91" stroke-dashoffset="0.75"/>
<path d="M1148.9 894.3L1149.9 894.4L1150.9 894.4L1151.9 894.4L1152.9 894.4L1153.9 894.5L1154.9 894.5L1155.9 894.5L1156.9 894.5L1157.9 894.6L1158.9 894.6L1159.9 894.6L1160.9 894.6" fill="none" stroke="#000000" stroke-width="2.2" stroke-dasharray="3 3.9" stroke-dashoffset="0.75"/>
<circle cx="680.25" cy="797.96" r="5.75" stroke="#000000" stroke-width="2.3" fill="none"/>
<circle cx="716.3" cy="828.14" r="5.75" stroke="#000000" stroke-width="2.3" fill="none"/>
<circle cx="752.35" cy="849.45" r="5.75" stroke="#000000" stroke-width="2.3" fill="none"/>
<circle cx="788.4" cy="863.36" r="5.75" stroke="#000000" stroke-width="2.3" fill="none"/>
<circle cx="824.45" cy="872.73" r="5.75" stroke="#000000" stroke-width="2.3" fill="none"/>
<circle cx="860.5" cy="878.75" r="5.75" stroke="#000000" stroke-width="2.3" fill="none"/>
<circle cx="896.56" cy="883.58" r="5.75" stroke="#000000" stroke-width="2.3" fill="none"/>
<circle cx="932.61" cy="886.93" r="5.75" stroke="#000000" stroke-width="2.3" fill="none"/>
<circle cx="968.66" cy="889.3" r="5.75" stroke="#000000" stroke-width="2.3" fill="none"/>
<circle cx="1004.71" cy="890.98" r="5.75" stroke="#000000" stroke-width="2.3" fill="none"/>
<circle cx="1040.76" cy="891.47" r="5.75" stroke="#000000" stroke-width="2.3" fill="none"/>
<circle cx="1076.81" cy="892.46" r="5.75" stroke="#000000" stroke-width="2.3" fill="none"/>
<circle cx="1112.86" cy="893.34" r="5.75" stroke="#000000" stroke-width="2.3" fill="none"/>
<circle cx="1148.91" cy="894.33" r="5.75" stroke="#000000" stroke-width="2.3" fill="none"/>
<path d="M680.2 798L682.9 800.4L685.5 802.9L688.1 805.3L690.7 807.6L693.3 809.9L695.9 812.2L698.5 814.4L701.1 816.6L703.7 818.7L706.3 820.7L708.9 822.7L711.5 824.7" fill="none" stroke="#228b22" stroke-width="2.2" stroke-dasharray="3 3.61" stroke-dashoffset="0.75"/>
<path d="M711.5 824.7L714.1 826.6L716.7 828.5L719.3 830.3L721.9 832.1L724.5 833.9L727.1 835.6L729.7 837.3L732.3 839L734.9 840.6L737.5 842.1L740.1 843.6L742.7 845" fill="none" stroke="#228b22" stroke-width="2.2" stroke-dasharray="3 4.16" stroke-dashoffset="0.75"/>
<path d="M742.7 845L745.3 846.4L747.9 847.8L750.5 849.1L753.2 850.4L755.8 851.7L758.4 852.9L761 854.1L763.6 855.2L766.2 856.3L768.8 857.4L771.4 858.4L774 859.3" fill="none" stroke="#228b22" stroke-width="2.2" stroke-dasharray="3 3.58" stroke-dashoffset="0.75"/>
<path d="M774 859.3L776.6 860.2L779.2 861L781.8 861.9L784.4 862.6L787 863.4L789.6 864.1L792.2 864.8L794.8 865.5L797.4 866.2L800 866.8L802.6 867.5L805.2 868.1" fill="none" stroke="#228b22" stroke-width="2.2" stroke-dasharray="3 3.19" stroke-dashoffset="0.75"/>
<path d="M805.2 868.1L807.8 868.7L810.4 869.3L813 869.9L815.6 870.5L818.2 871L820.8 871.6L823.5 872.1L826.1 872.6L828.7 873.2L831.3 873.7L833.9 874.1L836.5 874.6" fill="none" stroke="#228b22" stroke-width="2.2" stroke-dasharray="3 3.08" stroke-dashoffset="0.75"/>
<path d="M836.5 874.6L839.1 875.1L841.7 875.5L844.3 876L846.9 876.4L849.5 876.8L852.1 877.2L854.7 877.6L857.3 878L859.9 878.4L862.5 878.8L865.1 879.1L867.7 879.4" fill="none" stroke="#228b22" stroke-width="2.2" stroke-dasharray="3 3.02" stroke-dashoffset="0.75"/>
<path d="M867.7 879.4L870.3 879.7L872.9 880L875.5 880.3L878.1 880.6L880.7 880.9L883.3 881.1L885.9 881.4L888.5 881.6L891.1 881.9L893.8 882.1L896.4 882.4L899 882.6" fill="none" stroke="#228b22" stroke-width="2.2" stroke-dasharray="3 2.98" stroke-dashoffset="0.75"/>
<path d="M899 882.6L901.6 882.8L904.2 883L906.8 883.3L909.4 883.5L912 883.7L914.6 883.9L917.2 884.1L919.8 884.3L922.4 884.5L925 884.7L927.6 884.9L930.2 885.1" fill="none" stroke="#228b22" stroke-width="2.2" stroke-dasharray="3 2.97" stroke-dashoffset="0.75"/>
<path d="M930.2 885.1L932.8 885.3L935.4 885.5L938 885.7L940.6 885.9L943.2 886.1L945.8 886.3L948.4 886.5L951 886.7L953.6 886.8L956.2 887L958.8 887.2L961.4 887.3" fill="none" stroke="#228b22" stroke-width="2.2" stroke-dasharray="3 2.97" stroke-dashoffset="0.75"/>
<path d="M961.4 887.3L964.1 887.5L966.7 887.6L969.3 887.7L971.9 887.8L974.5 888L977.1 888.1L979.7 888.2L982.3 888.3L984.9 888.4L987.5 888.5L990.1 888.6L992.7 888.7" fill="none" stroke="#228b22" stroke-width="2.2" stroke-dasharray="3 2.96" stroke-dashoffset="0.75"/>
<path d="M992.7 888.7L995.3 888.8L997.9 888.9L1000.5 889L1003.1 889.1L1005.7 889.2L1008.3 889.3L1010.9 889.4L1013.5 889.5L1016.1 889.6L1018.7 889.6L1021.3 889.7L1023.9 889.8" fill="none" stroke="#228b22" stroke-width="2.2" stroke-dasharray="3 2.95" stroke-dashoffset="0.75"/>
<path d="M1023.9 889.8L1026.5 889.9L1029.1 889.9L1031.7 890L1034.4 890L1037 890.1L1039.6 890.1L1042.2 890.2L1044.8 890.2L1047.4 890.3L1050 890.4L1052.6 890.4L1055.2 890.5" fill="none" stroke="#228b22" stroke-width="2.2" stroke-dasharray="3 2.95" stroke-dashoffset="0.75"/>
<path d="M1055.2 890.5L1057.8 890.6L1060.4 890.6L1063 890.7L1065.6 890.8L1068.2 890.9L1070.8 891L1073.4 891.1L1076 891.2L1078.6 891.2L1081.2 891.3L1083.8 891.4L1086.4 891.5" fill="none" stroke="#228b22" stroke-width="2.2" stroke-dasharray="3 2.95" stroke-dashoffset="0.75"/>
<path d="M1086.4 891.5L1089 891.5L1091.6 891.6L1094.2 891.7L1096.8 891.7L1099.4 891.8L1102 891.8L1104.7 891.9L1107.3 891.9L1109.9 892L1112.5 892L1115.1 892.1L1117.7 892.2" fill="none" stroke="#228b22" stroke-width="2.2" stroke-dasharray="3 2.95" stroke-dashoffset="0.75"/>
<path d="M1117.7 892.2L1120.3 892.2L1122.9 892.3L1125.5 892.4L1128.1 892.4L1130.7 892.5L1133.3 892.6L1135.9 892.7L1138.5 892.8L1141.1 892.8L1143.7 892.9L1146.3 893L1148.9 893" fill="none" stroke="#228b22" stroke-width="2.2" stroke-dasharray="3 2.95" stroke-dashoffset="0.75"/>
<path d="M1148.9 893L1149.9 893.1L1150.9 893.1L1151.9 893.1L1152.9 893.2L1153.9 893.2L1154.9 893.2L1155.9 893.2L1156.9 893.2L1157.9 893.3L1158.9 893.3L1159.9 893.3L1160.9 893.3" fill="none" stroke="#228b22" stroke-width="2.2" stroke-dasharray="3 3.9" stroke-dashoffset="0.75"/>
<path d="M680.25 790.16L687.65 801.76L672.85 801.76Z" stroke="#228b22" stroke-width="2.2" fill="none" stroke-miterlimit="10"/>
<path d="M711.49 816.89L718.89 828.49L704.09 828.49Z" stroke="#228b22" stroke-width="2.2" fill="none" stroke-miterlimit="10"/>
<path d="M742.74 837.21L750.14 848.81L735.34 848.81Z" stroke="#228b22" stroke-width="2.2" fill="none" stroke-miterlimit="10"/>
<path d="M773.98 851.51L781.38 863.11L766.58 863.11Z" stroke="#228b22" stroke-width="2.2" fill="none" stroke-miterlimit="10"/>
<path d="M805.23 860.29L812.63 871.89L797.83 871.89Z" stroke="#228b22" stroke-width="2.2" fill="none" stroke-miterlimit="10"/>
<path d="M836.47 866.8L843.87 878.4L829.07 878.4Z" stroke="#228b22" stroke-width="2.2" fill="none" stroke-miterlimit="10"/>
<path d="M867.72 871.64L875.12 883.24L860.32 883.24Z" stroke="#228b22" stroke-width="2.2" fill="none" stroke-miterlimit="10"/>
<path d="M898.96 874.79L906.36 886.39L891.56 886.39Z" stroke="#228b22" stroke-width="2.2" fill="none" stroke-miterlimit="10"/>
<path d="M930.2 877.26L937.6 888.86L922.8 888.86Z" stroke="#228b22" stroke-width="2.2" fill="none" stroke-miterlimit="10"/>
<path d="M961.45 879.53L968.85 891.13L954.05 891.13Z" stroke="#228b22" stroke-width="2.2" fill="none" stroke-miterlimit="10"/>
<path d="M992.69 880.91L1000.09 892.51L985.29 892.51Z" stroke="#228b22" stroke-width="2.2" fill="none" stroke-miterlimit="10"/>
<path d="M1023.94 881.99L1031.34 893.59L1016.54 893.59Z" stroke="#228b22" stroke-width="2.2" fill="none" stroke-miterlimit="10"/>
<path d="M1055.18 882.68L1062.58 894.28L1047.78 894.28Z" stroke="#228b22" stroke-width="2.2" fill="none" stroke-miterlimit="10"/>
<path d="M1086.42 883.67L1093.82 895.27L1079.02 895.27Z" stroke="#228b22" stroke-width="2.2" fill="none" stroke-miterlimit="10"/>
<path d="M1117.67 884.36L1125.07 895.96L1110.27 895.96Z" stroke="#228b22" stroke-width="2.2" fill="none" stroke-miterlimit="10"/>
<path d="M1148.91 885.25L1156.31 896.85L1141.51 896.85Z" stroke="#228b22" stroke-width="2.2" fill="none" stroke-miterlimit="10"/>
</g>
<path d="M680.25 906.57v-9.8M680.25 501.87v9.8M776.39 906.57v-9.8M776.39 501.87v9.8M872.52 906.57v-9.8M872.52 501.87v9.8M968.66 906.57v-9.8M968.66 501.87v9.8M1064.79 906.57v-9.8M1064.79 501.87v9.8M1160.93 906.57v-9.8M1160.93 501.87v9.8M680.25 896.95h9.8M1160.93 896.95h-9.8M680.25 798.18h9.8M1160.93 798.18h-9.8M680.25 699.41h9.8M1160.93 699.41h-9.8M680.25 600.64h9.8M1160.93 600.64h-9.8M680.25 501.87h9.8M1160.93 501.87h-9.8" stroke="#222" stroke-width="1" fill="none"/>
<rect x="680.25" y="501.87" width="480.68" height="404.7" fill="none" stroke="#000" stroke-width="1.7"/>
<text class="t" transform="translate(680.35 934.62) scale(0.945 0.995)" text-anchor="middle">0</text>
<text class="t" transform="translate(776.49 934.62) scale(0.945 0.995)" text-anchor="middle">2</text>
<text class="t" transform="translate(872.62 934.62) scale(0.945 0.995)" text-anchor="middle">4</text>
<text class="t" transform="translate(968.76 934.62) scale(0.945 0.995)" text-anchor="middle">6</text>
<text class="t" transform="translate(1064.89 934.62) scale(0.945 0.995)" text-anchor="middle">8</text>
<text class="t" transform="translate(1164.63 934.62) scale(0.945 0.995)" text-anchor="middle">10</text>
<text class="t" transform="translate(669.25 905.95) scale(0.945 0.995)" text-anchor="end">0</text>
<text class="t" transform="translate(669.25 807.18) scale(0.945 0.995)" text-anchor="end">1</text>
<text class="t" transform="translate(669.25 708.41) scale(0.945 0.995)" text-anchor="end">2</text>
<text class="t" transform="translate(669.25 609.64) scale(0.945 0.995)" text-anchor="end">3</text>
<text class="t" transform="translate(669.25 510.87) scale(0.945 0.995)" text-anchor="end">4</text>
<text class="p" transform="translate(605 513.3) scale(1.0 1.0)">(<tspan class="i">d</tspan>)</text>
<text class="l i" transform="translate(317.4 975.3) scale(0.94 1.0)" text-anchor="middle">St</text>
<text class="l i" transform="translate(920.3 975.3) scale(0.94 1.0)" text-anchor="middle">St</text>
<g transform="translate(33.8 213.6) rotate(-90)">
<text class="k" transform="translate(-51 0) scale(1.2 1)">&#x1D4A6;</text>
<text class="l" transform="translate(-26.2 1.5) skewX(-15) scale(1.08 1.14)">/</text>
<text class="k" transform="translate(-10.6 0) scale(1.15 1)">&#x1D4A6;</text>
<text class="l" transform="translate(15.0 0) scale(0.97 0.98)">(0)</text>
</g>
<g transform="translate(33.8 705.9) rotate(-90)">
<text class="k" transform="translate(-51 0) scale(1.2 1)">&#x1D4A6;</text>
<text class="l" transform="translate(-26.2 1.5) skewX(-15) scale(1.08 1.14)">/</text>
<text class="k" transform="translate(-10.6 0) scale(1.15 1)">&#x1D4A6;</text>
<text class="l" transform="translate(15.0 0) scale(0.97 0.98)">(0)</text>
</g>
<text class="t" transform="translate(327.9 43.4) scale(0.945 0.995)" text-anchor="end">Weinstock&#x2019;s model</text>
<path d="M337.2 36H415" stroke="#306080" stroke-width="7.5" stroke-dasharray="9.4 14.1" fill="none"/>
<text class="t" transform="translate(1057.4 543.8) scale(0.96 0.995)" text-anchor="end">DNS</text>
<text class="t" transform="translate(1057.4 581.1) scale(0.96 0.995)" text-anchor="end">ZCG (viscous linear)</text>
<text class="t" transform="translate(1057.4 617.8) scale(0.96 0.995)" text-anchor="end">MCS</text>
<text class="t" transform="translate(1057.4 654.3) scale(0.96 0.995)" text-anchor="end">ZCG</text>
<text class="t" transform="translate(1057.4 690.4) scale(0.96 0.995)" text-anchor="end">Hybrid model</text>
<path d="M1070.2 537.3H1124" stroke="#191970" stroke-width="4.7" fill="none"/>
<path d="M1070.2 574.4H1124" stroke="#8b0000" stroke-width="4.6" stroke-dasharray="9.5 6.5 1.2 6.1" fill="none"/>
<path d="M1070.2 611.3h9.6M1108.3 611.3h9.3M1091 611.3H1099.1" stroke="#c71585" stroke-width="2" fill="none"/>
<g stroke="#c71585" stroke-width="1.6" fill="none"><rect x="1090.7" y="604.85" width="12.9" height="12.9"/></g>
<path d="M1070.2 647.7h9.6M1108.3 647.7h9.3M1091 647.7H1099.1" stroke="#000000" stroke-width="2" fill="none"/>
<circle cx="1097.15" cy="647.7" r="6.35" stroke="#000000" stroke-width="1.8" fill="none"/>
<path d="M1070.2 683.7h9.6M1108.3 683.7h9.3M1091 683.7H1099.1" stroke="#228b22" stroke-width="2" fill="none"/>
<path d="M1097.15 677.4L1103.35 686.8L1090.95 686.8Z" stroke="#228b22" stroke-width="1.8" fill="none" stroke-miterlimit="10"/>
</svg>
</body>
</html>
